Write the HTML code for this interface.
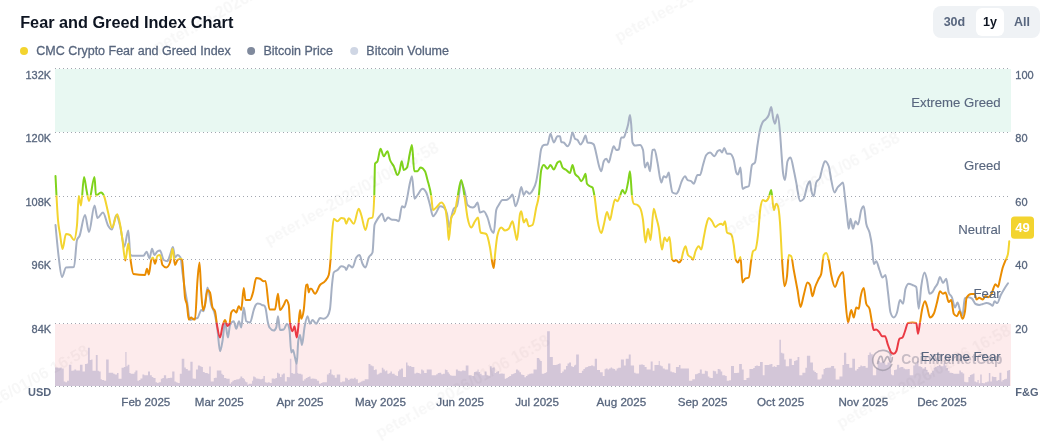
<!DOCTYPE html>
<html><head><meta charset="utf-8">
<style>
html,body{margin:0;padding:0;background:#fff;}
body{width:1058px;height:444px;overflow:hidden;position:relative;font-family:"Liberation Sans",sans-serif;}
svg{position:absolute;left:0;top:0;will-change:transform;}
text{font-family:"Liberation Sans",sans-serif;}
.ax{font-size:11px;fill:#58667e;stroke:#58667e;stroke-width:0.3px;}
.xl{font-size:11.6px;fill:#58667e;text-anchor:middle;stroke:#58667e;stroke-width:0.3px;}
.zl{font-size:13.2px;fill:#58667e;text-anchor:end;stroke:#58667e;stroke-width:0.12px;}
.lg{font-size:12.5px;fill:#58667e;stroke:#58667e;stroke-width:0.3px;}
</style></head>
<body>
<svg width="1058" height="444" viewBox="0 0 1058 444">
<defs>
<clipPath id="cg"><rect x="0" y="0" width="1058" height="195.6"/></clipPath>
<clipPath id="cy"><rect x="0" y="195.6" width="1058" height="63.6"/></clipPath>
<clipPath id="co"><rect x="0" y="259.2" width="1058" height="63.6"/></clipPath>
<clipPath id="cr"><rect x="0" y="322.8" width="1058" height="100"/></clipPath>
<pattern id="dots" x="55" y="0" width="4" height="1" patternUnits="userSpaceOnUse"><rect x="0" y="0" width="1" height="1" fill="#a2a6b0"/></pattern>
</defs>
<!-- title -->
<text x="20.2" y="28.1" style="font-size:16.25px;font-weight:700;fill:#0d1421">Fear and Greed Index Chart</text>
<!-- legend -->
<circle cx="24" cy="51" r="4" fill="#f3d42f"/>
<text class="lg" x="36.3" y="55.3">CMC Crypto Fear and Greed Index</text>
<circle cx="251.1" cy="51" r="4" fill="#808a9d"/>
<text class="lg" x="263.5" y="55.3">Bitcoin Price</text>
<circle cx="354.2" cy="51" r="4" fill="#cfd6e4"/>
<text class="lg" x="366.3" y="55.3">Bitcoin Volume</text>
<!-- buttons -->
<rect x="933" y="6" width="107" height="32" rx="8" fill="#eff2f5"/>
<rect x="976" y="8" width="28" height="28" rx="6" fill="#fff"/>
<text x="954.4" y="25.8" style="font-size:12.5px;font-weight:700;fill:#58667e;text-anchor:middle">30d</text>
<text x="990" y="25.8" style="font-size:12.5px;font-weight:700;fill:#0d1421;text-anchor:middle">1y</text>
<text x="1022" y="25.8" style="font-size:12.5px;font-weight:700;fill:#58667e;text-anchor:middle">All</text>
<!-- bands -->
<rect x="55" y="69" width="956" height="63" fill="#e8f8f2"/>
<rect x="55" y="324" width="956" height="62" fill="#fdebec"/>
<!-- volume -->
<path d="M55,386 L55.00,367.50 L58.02,367.50 L58.02,367.81 L60.29,367.81 L60.29,367.50 L61.81,367.50 L61.81,368.56 L63.77,368.56 L63.77,381.42 L65.28,381.42 L65.28,382.17 L67.10,382.17 L67.10,380.66 L68.91,380.66 L68.91,364.78 L71.33,364.78 L71.33,370.83 L72.84,370.83 L72.84,370.53 L74.36,370.53 L74.36,369.62 L76.17,369.62 L76.17,370.53 L77.68,370.53 L77.68,370.53 L79.95,370.53 L79.95,364.78 L82.52,364.78 L82.52,371.59 L84.94,371.59 L84.94,364.03 L86.76,364.03 L86.76,363.57 L87.97,363.57 L87.97,347.84 L89.78,347.84 L89.78,359.94 L91.29,359.94 L91.29,359.49 L92.50,359.49 L92.50,370.83 L95.83,370.83 L95.83,354.95 L97.65,354.95 L97.65,370.83 L98.86,370.83 L98.86,371.59 L100.67,371.59 L100.67,379.15 L101.88,379.15 L101.88,379.91 L104.15,379.91 L104.15,380.66 L106.12,380.66 L106.12,359.49 L108.69,359.49 L108.69,372.65 L113.22,372.65 L113.22,373.86 L114.74,373.86 L114.74,374.61 L117.00,374.61 L117.00,373.10 L118.52,373.10 L118.52,378.70 L121.54,378.70 L121.54,367.81 L123.81,367.81 L123.81,367.05 L125.32,367.05 L125.32,351.93 L126.53,351.93 L126.53,366.29 L127.59,366.29 L127.59,364.78 L129.40,364.78 L129.40,373.10 L130.61,373.10 L130.61,373.86 L134.40,373.86 L134.40,372.34 L135.45,372.34 L135.45,370.53 L137.42,370.53 L137.42,380.66 L138.93,380.66 L138.93,379.91 L140.44,379.91 L140.44,378.39 L142.41,378.39 L142.41,374.61 L144.22,374.61 L144.22,375.37 L148.01,375.37 L148.01,371.59 L149.97,371.59 L149.97,375.37 L151.79,375.37 L151.79,376.88 L153.30,376.88 L153.30,378.09 L155.57,378.09 L155.57,382.17 L157.08,382.17 L157.08,382.93 L158.59,382.93 L158.59,382.17 L160.86,382.17 L160.86,378.70 L162.37,378.70 L162.37,378.09 L163.88,378.09 L163.88,375.37 L166.15,375.37 L166.15,378.39 L167.67,378.39 L167.67,378.09 L169.93,378.09 L169.93,377.64 L172.20,377.64 L172.20,371.59 L174.47,371.59 L174.47,381.42 L175.98,381.42 L175.98,382.17 L177.50,382.17 L177.50,382.93 L179.76,382.93 L179.76,373.86 L181.73,373.86 L181.73,358.73 L184.30,358.73 L184.30,367.50 L185.81,367.50 L185.81,369.02 L187.78,369.02 L187.78,370.53 L190.35,370.53 L190.35,361.76 L192.62,361.76 L192.62,378.39 L194.13,378.39 L194.13,378.70 L195.95,378.70 L195.95,369.62 L197.91,369.62 L197.91,365.54 L199.88,365.54 L199.88,366.29 L201.39,366.29 L201.39,367.05 L202.90,367.05 L202.90,372.04 L204.72,372.04 L204.72,373.10 L207.74,373.10 L207.74,373.86 L209.25,373.86 L209.25,366.60 L210.77,366.60 L210.77,381.42 L213.79,381.42 L213.79,378.09 L215.00,378.09 L215.00,377.64 L216.81,377.64 L216.81,370.53 L221.35,370.53 L221.35,373.86 L222.56,373.86 L222.56,375.07 L224.07,375.07 L224.07,378.09 L226.34,378.09 L226.34,378.70 L229.67,378.70 L229.67,383.69 L230.88,383.69 L230.88,382.17 L232.39,382.17 L232.39,380.66 L233.90,380.66 L233.90,379.91 L235.87,379.91 L235.87,379.60 L237.38,379.60 L237.38,379.15 L239.20,379.15 L239.20,378.39 L240.41,378.39 L240.41,376.58 L242.22,376.58 L242.22,378.09 L243.73,378.09 L243.73,379.15 L244.94,379.15 L244.94,381.42 L246.00,381.42 L246.00,382.17 L247.51,382.17 L247.51,384.74 L248.57,384.74 L248.57,383.69 L252.05,383.69 L252.05,380.66 L253.11,380.66 L253.11,376.58 L254.62,376.58 L254.62,377.18 L255.83,377.18 L255.83,378.39 L257.65,378.39 L257.65,378.70 L259.61,378.70 L259.61,379.15 L261.88,379.15 L261.88,378.70 L263.39,378.70 L263.39,376.12 L264.91,376.12 L264.91,382.17 L266.42,382.17 L266.42,382.63 L267.93,382.63 L267.93,382.17 L269.74,382.17 L269.74,382.93 L271.71,382.93 L271.71,378.39 L273.98,378.39 L273.98,378.70 L275.49,378.70 L275.49,378.09 L277.00,378.09 L277.00,372.65 L278.52,372.65 L278.52,373.86 L280.03,373.86 L280.03,376.88 L281.54,376.88 L281.54,374.61 L283.05,374.61 L283.05,373.55 L284.87,373.55 L284.87,381.42 L286.83,381.42 L286.83,376.88 L288.35,376.88 L288.35,377.18 L289.86,377.18 L289.86,358.73 L291.37,358.73 L291.37,373.10 L292.88,373.10 L292.88,373.86 L295.15,373.86 L295.15,363.27 L297.42,363.27 L297.42,373.10 L298.18,373.10 L298.18,373.86 L301.20,373.86 L301.20,374.61 L302.71,374.61 L302.71,380.66 L304.22,380.66 L304.22,379.15 L305.74,379.15 L305.74,378.09 L307.55,378.09 L307.55,376.88 L309.06,376.88 L309.06,376.58 L310.58,376.58 L310.58,378.70 L312.09,378.70 L312.09,378.39 L313.60,378.39 L313.60,378.70 L315.57,378.70 L315.57,379.15 L317.08,379.15 L317.08,380.66 L319.05,380.66 L319.05,383.69 L320.86,383.69 L320.86,382.93 L322.37,382.93 L322.37,382.17 L326.91,382.17 L326.91,374.61 L328.72,374.61 L328.72,373.10 L329.93,373.10 L329.93,369.62 L331.45,369.62 L331.45,374.61 L332.96,374.61 L332.96,375.37 L334.77,375.37 L334.77,377.64 L336.74,377.64 L336.74,374.61 L340.22,374.61 L340.22,382.17 L342.03,382.17 L342.03,381.42 L345.06,381.42 L345.06,377.64 L346.57,377.64 L346.57,378.39 L348.08,378.39 L348.08,379.91 L349.59,379.91 L349.59,378.70 L351.11,378.70 L351.11,378.39 L352.62,378.39 L352.62,378.70 L354.13,378.70 L354.13,377.64 L355.64,377.64 L355.64,379.15 L357.91,379.15 L357.91,382.93 L359.42,382.93 L359.42,382.17 L360.94,382.17 L360.94,381.42 L362.45,381.42 L362.45,380.66 L364.72,380.66 L364.72,379.15 L368.50,379.15 L368.50,364.03 L370.46,364.03 L370.46,365.54 L372.28,365.54 L372.28,366.29 L373.79,366.29 L373.79,370.08 L375.00,370.08 L375.00,369.62 L376.81,369.62 L376.81,374.61 L378.33,374.61 L378.33,373.86 L379.54,373.86 L379.54,372.65 L381.81,372.65 L381.81,367.81 L383.32,367.81 L383.32,369.62 L384.83,369.62 L384.83,371.13 L385.89,371.13 L385.89,370.53 L387.40,370.53 L387.40,373.86 L389.37,373.86 L389.37,373.10 L390.43,373.10 L390.43,371.59 L391.94,371.59 L391.94,373.86 L394.66,373.86 L394.66,375.37 L396.47,375.37 L396.47,376.12 L397.99,376.12 L397.99,371.13 L399.20,371.13 L399.20,369.62 L401.01,369.62 L401.01,368.56 L402.98,368.56 L402.98,376.88 L406.00,376.88 L406.00,362.51 L407.51,362.51 L407.51,365.54 L409.03,365.54 L409.03,366.29 L410.09,366.29 L410.09,365.99 L411.29,365.99 L411.29,367.05 L414.32,367.05 L414.32,373.55 L416.13,373.55 L416.13,372.65 L418.10,372.65 L418.10,373.10 L419.61,373.10 L419.61,373.86 L421.12,373.86 L421.12,369.62 L422.64,369.62 L422.64,370.53 L424.15,370.53 L424.15,373.10 L426.72,373.10 L426.72,369.62 L431.71,369.62 L431.71,375.37 L436.25,375.37 L436.25,374.16 L437.76,374.16 L437.76,373.10 L439.27,373.10 L439.27,372.65 L441.24,372.65 L441.24,374.16 L443.05,374.16 L443.05,373.86 L444.87,373.86 L444.87,369.62 L446.08,369.62 L446.08,370.08 L447.59,370.08 L447.59,372.34 L448.80,372.34 L448.80,373.86 L449.86,373.86 L449.86,375.37 L451.37,375.37 L451.37,375.67 L455.91,375.67 L455.91,369.62 L457.87,369.62 L457.87,370.83 L459.69,370.83 L459.69,371.13 L461.96,371.13 L461.96,370.53 L464.22,370.53 L464.22,370.83 L465.74,370.83 L465.74,365.54 L468.46,365.54 L468.46,375.37 L471.79,375.37 L471.79,376.12 L474.05,376.12 L474.05,372.04 L475.57,372.04 L475.57,371.59 L477.53,371.59 L477.53,369.62 L478.59,369.62 L478.59,372.04 L480.10,372.04 L480.10,373.86 L481.62,373.86 L481.62,375.37 L484.64,375.37 L484.64,371.59 L486.61,371.59 L486.61,375.37 L488.42,375.37 L488.42,375.67 L489.93,375.67 L489.93,366.29 L491.75,366.29 L491.75,367.81 L492.96,367.81 L492.96,367.50 L494.77,367.50 L494.77,373.10 L495.98,373.10 L495.98,372.34 L497.50,372.34 L497.50,371.13 L499.01,371.13 L499.01,373.86 L500.52,373.86 L500.52,373.55 L502.79,373.55 L502.79,373.86 L504.75,373.86 L504.75,378.70 L506.27,378.70 L506.27,378.09 L507.78,378.09 L507.78,376.88 L509.29,376.88 L509.29,376.12 L511.11,376.12 L511.11,374.16 L512.92,374.16 L512.92,373.86 L514.43,373.86 L514.43,373.10 L515.95,373.10 L515.95,369.62 L517.91,369.62 L517.91,370.53 L519.42,370.53 L519.42,372.34 L520.94,372.34 L520.94,374.61 L522.45,374.61 L522.45,375.07 L524.41,375.07 L524.41,377.18 L525.93,377.18 L525.93,376.12 L527.44,376.12 L527.44,374.61 L529.25,374.61 L529.25,373.86 L530.77,373.86 L530.77,373.55 L533.49,373.55 L533.49,369.62 L535.00,369.62 L535.00,369.62 L536.81,369.62 L536.81,357.98 L539.23,357.98 L539.23,359.49 L540.29,359.49 L540.29,361.00 L541.81,361.00 L541.81,373.86 L544.38,373.86 L544.38,373.10 L545.89,373.10 L545.89,372.34 L547.10,372.34 L547.10,331.21 L549.82,331.21 L549.82,356.92 L552.84,356.92 L552.84,365.09 L556.17,365.09 L556.17,364.78 L557.68,364.78 L557.68,364.03 L558.89,364.03 L558.89,363.57 L560.71,363.57 L560.71,373.10 L562.22,373.10 L562.22,371.59 L563.73,371.59 L563.73,369.62 L566.00,369.62 L566.00,365.99 L567.51,365.99 L567.51,363.57 L569.03,363.57 L569.03,362.51 L570.99,362.51 L570.99,366.29 L572.50,366.29 L572.50,367.05 L574.02,367.05 L574.02,365.54 L575.08,365.54 L575.08,364.78 L576.13,364.78 L576.13,354.50 L578.86,354.50 L578.86,373.10 L581.88,373.10 L581.88,370.83 L583.39,370.83 L583.39,369.02 L584.91,369.02 L584.91,367.50 L586.42,367.50 L586.42,367.05 L587.93,367.05 L587.93,366.29 L589.44,366.29 L589.44,365.99 L590.95,365.99 L590.95,365.54 L593.22,365.54 L593.22,366.29 L594.74,366.29 L594.74,358.73 L597.00,358.73 L597.00,370.08 L600.03,370.08 L600.03,372.34 L602.75,372.34 L602.75,376.12 L604.57,376.12 L604.57,369.32 L605.78,369.32 L605.78,368.56 L607.59,368.56 L607.59,369.62 L609.10,369.62 L609.10,368.56 L610.61,368.56 L610.61,367.50 L612.13,367.50 L612.13,368.56 L613.64,368.56 L613.64,369.02 L615.15,369.02 L615.15,370.53 L616.66,370.53 L616.66,368.56 L618.18,368.56 L618.18,367.81 L620.90,367.81 L620.90,359.49 L623.92,359.49 L623.92,365.54 L625.74,365.54 L625.74,358.73 L628.76,358.73 L628.76,354.50 L630.73,354.50 L630.73,365.54 L634.05,365.54 L634.05,372.65 L635.57,372.65 L635.57,373.55 L639.05,373.55 L639.05,364.78 L640.86,364.78 L640.86,364.48 L643.13,364.48 L643.13,365.09 L644.64,365.09 L644.64,367.05 L646.61,367.05 L646.61,369.62 L650.69,369.62 L650.69,361.46 L652.66,361.46 L652.66,370.83 L654.47,370.83 L654.47,365.09 L658.71,365.09 L658.71,361.00 L659.76,361.00 L659.76,365.54 L661.28,365.54 L661.28,366.29 L662.79,366.29 L662.79,368.56 L664.75,368.56 L664.75,369.62 L668.08,369.62 L668.08,363.57 L670.35,363.57 L670.35,371.59 L671.86,371.59 L671.86,372.34 L674.43,372.34 L674.43,373.10 L675.95,373.10 L675.95,367.05 L678.97,367.05 L678.97,365.09 L680.48,365.09 L680.48,368.56 L686.23,368.56 L686.23,368.56 L688.95,368.56 L688.95,380.66 L692.28,380.66 L692.28,379.15 L695.00,379.15 L695.00,374.16 L696.81,374.16 L696.81,373.86 L698.33,373.86 L698.33,373.10 L699.84,373.10 L699.84,369.62 L701.81,369.62 L701.81,373.86 L704.83,373.86 L704.83,370.83 L706.34,370.83 L706.34,371.13 L707.85,371.13 L707.85,376.58 L709.37,376.58 L709.37,377.64 L710.88,377.64 L710.88,378.09 L712.84,378.09 L712.84,370.83 L714.36,370.83 L714.36,371.13 L716.17,371.13 L716.17,373.86 L717.68,373.86 L717.68,369.02 L719.50,369.02 L719.50,369.62 L720.71,369.62 L720.71,371.59 L722.22,371.59 L722.22,375.37 L725.25,375.37 L725.25,376.12 L726.76,376.12 L726.76,380.66 L729.03,380.66 L729.03,380.21 L730.99,380.21 L730.99,365.99 L734.02,365.99 L734.02,373.10 L737.34,373.10 L737.34,372.65 L739.16,372.65 L739.16,364.03 L741.88,364.03 L741.88,369.62 L743.70,369.62 L743.70,379.91 L746.42,379.91 L746.42,378.09 L747.93,378.09 L747.93,377.64 L749.44,377.64 L749.44,369.02 L753.22,369.02 L753.22,368.11 L754.74,368.11 L754.74,365.99 L756.25,365.99 L756.25,365.54 L757.76,365.54 L757.76,365.99 L760.03,365.99 L760.03,362.06 L762.75,362.06 L762.75,375.37 L764.57,375.37 L764.57,365.09 L769.10,365.09 L769.10,364.48 L770.61,364.48 L770.61,364.03 L772.43,364.03 L772.43,367.05 L773.64,367.05 L773.64,366.29 L775.15,366.29 L775.15,367.05 L776.66,367.05 L776.66,365.09 L779.39,365.09 L779.39,339.83 L780.90,339.83 L780.90,352.68 L782.41,352.68 L782.41,353.44 L784.22,353.44 L784.22,359.49 L785.74,359.49 L785.74,366.29 L789.06,366.29 L789.06,358.73 L791.79,358.73 L791.79,365.09 L794.05,365.09 L794.05,361.00 L795.57,361.00 L795.57,360.25 L797.53,360.25 L797.53,356.92 L799.35,356.92 L799.35,375.37 L802.37,375.37 L802.37,372.65 L805.40,372.65 L805.40,367.81 L806.91,367.81 L806.91,355.71 L810.24,355.71 L810.24,362.51 L812.96,362.51 L812.96,370.53 L814.47,370.53 L814.47,372.04 L815.98,372.04 L815.98,373.10 L817.50,373.10 L817.50,379.60 L820.52,379.60 L820.52,378.39 L821.73,378.39 L821.73,374.61 L823.54,374.61 L823.54,369.02 L825.06,369.02 L825.06,368.11 L826.57,368.11 L826.57,367.81 L829.59,367.81 L829.59,367.50 L831.11,367.50 L831.11,365.99 L834.13,365.99 L834.13,368.56 L835.64,368.56 L835.64,379.60 L839.42,379.60 L839.42,376.58 L842.45,376.58 L842.45,365.09 L843.96,365.09 L843.96,352.68 L846.23,352.68 L846.23,364.03 L849.25,364.03 L849.25,367.81 L852.28,367.81 L852.28,358.73 L855.00,358.73 L855.00,370.53 L856.81,370.53 L856.81,369.02 L858.33,369.02 L858.33,367.05 L860.29,367.05 L860.29,365.54 L861.81,365.54 L861.81,366.29 L863.32,366.29 L863.32,365.99 L865.59,365.99 L865.59,367.81 L867.85,367.81 L867.85,354.95 L869.37,354.95 L869.37,352.38 L870.88,352.38 L870.88,354.20 L872.84,354.20 L872.84,375.37 L876.17,375.37 L876.17,367.81 L877.68,367.81 L877.68,361.00 L879.95,361.00 L879.95,362.51 L881.92,362.51 L881.92,361.76 L883.73,361.76 L883.73,362.51 L885.25,362.51 L885.25,364.78 L887.51,364.78 L887.51,362.51 L889.48,362.51 L889.48,348.15 L890.99,348.15 L890.99,374.61 L892.05,374.61 L892.05,375.37 L894.02,375.37 L894.02,370.08 L895.53,370.08 L895.53,369.62 L897.04,369.62 L897.04,364.78 L899.16,364.78 L899.16,367.81 L900.37,367.81 L900.37,367.05 L903.39,367.05 L903.39,368.56 L904.91,368.56 L904.91,369.32 L907.93,369.32 L907.93,369.02 L909.74,369.02 L909.74,375.37 L913.22,375.37 L913.22,365.54 L914.74,365.54 L914.74,364.03 L917.00,364.03 L917.00,361.00 L918.52,361.00 L918.52,366.29 L920.78,366.29 L920.78,367.05 L922.30,367.05 L922.30,368.56 L924.57,368.56 L924.57,367.05 L926.08,367.05 L926.08,370.08 L927.59,370.08 L927.59,372.34 L929.10,372.34 L929.10,374.61 L930.61,374.61 L930.61,372.65 L932.13,372.65 L932.13,370.83 L933.64,370.83 L933.64,367.81 L935.15,367.81 L935.15,367.05 L936.66,367.05 L936.66,365.99 L938.93,365.99 L938.93,365.09 L940.44,365.09 L940.44,366.29 L943.47,366.29 L943.47,363.27 L944.98,363.27 L944.98,365.54 L946.49,365.54 L946.49,368.11 L948.01,368.11 L948.01,370.83 L949.52,370.83 L949.52,372.65 L951.79,372.65 L951.79,373.10 L953.30,373.10 L953.30,373.86 L959.35,373.86 L959.35,370.53 L960.86,370.53 L960.86,372.34 L962.67,372.34 L962.67,373.55 L964.19,373.55 L964.19,381.72 L965.40,381.72 L965.40,382.17 L968.42,382.17 L968.42,376.88 L969.93,376.88 L969.93,375.07 L971.45,375.07 L971.45,374.16 L973.26,374.16 L973.26,373.55 L974.47,373.55 L974.47,381.42 L975.98,381.42 L975.98,382.17 L977.50,382.17 L977.50,379.91 L978.71,379.91 L978.71,383.23 L980.22,383.23 L980.22,374.61 L981.73,374.61 L981.73,382.93 L983.24,382.93 L983.24,383.23 L985.06,383.23 L985.06,382.17 L987.33,382.17 L987.33,381.42 L988.84,381.42 L988.84,373.10 L990.35,373.10 L990.35,381.42 L991.86,381.42 L991.86,376.58 L993.37,376.58 L993.37,376.88 L996.40,376.88 L996.40,380.66 L997.91,380.66 L997.91,379.91 L999.42,379.91 L999.42,372.65 L1001.39,372.65 L1001.39,381.42 L1002.45,381.42 L1002.45,379.91 L1003.96,379.91 L1003.96,379.15 L1005.47,379.15 L1005.47,378.70 L1006.98,378.70 L1006.98,370.83 L1008.50,370.83 L1008.50,370.08 L1010.00,370.08 L1010,386 Z" fill="#d3c6d8"/>
<!-- grid -->
<rect x="55" y="68" width="954" height="1" fill="url(#dots)"/>
<rect x="55" y="132" width="954" height="1" fill="url(#dots)"/>
<rect x="55" y="196" width="954" height="1" fill="url(#dots)"/>
<rect x="55" y="259" width="954" height="1" fill="url(#dots)"/>
<rect x="55" y="323" width="954" height="1" fill="url(#dots)"/>
<rect x="55" y="386" width="954" height="1" fill="url(#dots)"/>
<!-- watermark logo -->
<g fill="none" stroke="#9d97a6" stroke-width="1.7" opacity="0.7" stroke-linecap="round">
<path d="M891.2,355 A10,10 0 1 0 891.8,364.5"/>
<path d="M877.6,363.5 C878.6,358 880,355.6 881.4,356.4 C882.8,357.3 882.2,362.3 883.6,362.3 C885,362.3 885.6,356.2 887.6,356.6 C889.4,357 889,362.2 890.6,362.2 C891.6,362.2 892.2,359.5 892.3,357.6"/>
</g>
<text x="901.2" y="364.2" style="font-size:13.8px;font-weight:700;fill:#9d97a6;opacity:0.55">CoinMarketCap</text>
<!-- btc line -->
<path d="M55.50,225.00 C56.58,236.92 57.67,248.83 58.75,257.50 C59.83,266.17 60.92,277.00 62.00,277.00 C63.33,277.00 64.67,267.67 66.00,267.50 C68.67,267.17 71.33,267.33 74.00,267.00 C75.00,266.88 76.00,243.20 77.00,240.00 C77.83,237.33 78.67,237.91 79.50,236.00 C81.33,231.80 83.17,215.00 85.00,215.00 C86.33,215.00 87.67,232.00 89.00,232.00 C90.83,232.00 92.67,205.50 94.50,205.50 C95.50,205.50 96.50,218.00 97.50,218.00 C99.33,218.00 101.17,212.50 103.00,212.50 C104.67,212.50 106.33,222.54 108.00,225.40 C109.33,227.69 110.67,229.50 112.00,229.50 C113.40,229.50 114.80,215.30 116.20,215.30 C117.53,215.30 118.87,221.27 120.20,226.40 C121.57,231.66 122.93,246.70 124.30,246.70 C125.63,246.70 126.97,230.50 128.30,230.50 C129.00,230.50 129.70,254.10 130.40,254.80 C131.07,255.47 131.73,255.80 132.40,255.80 C136.10,255.80 139.80,255.80 143.50,255.80 C144.53,255.80 145.57,251.70 146.60,251.70 C147.57,251.70 148.53,258.50 149.50,258.50 C150.33,258.50 151.17,248.75 152.00,248.75 C152.83,248.75 153.67,255.00 154.50,255.00 C155.50,255.00 156.50,251.85 157.50,251.25 C158.33,250.75 159.17,250.50 160.00,250.50 C161.25,250.50 162.50,259.17 163.75,260.00 C165.00,260.83 166.25,261.25 167.50,261.25 C168.33,261.25 169.17,257.15 170.00,255.00 C171.00,252.42 172.00,247.00 173.00,247.00 C173.67,247.00 174.33,257.50 175.00,257.50 C175.83,257.50 176.67,255.00 177.50,255.00 C178.50,255.00 179.50,255.83 180.50,257.50 C181.17,258.61 181.83,267.65 182.50,272.50 C183.33,278.56 184.17,284.80 185.00,290.00 C185.67,294.16 186.33,297.33 187.00,301.25 C188.00,307.12 189.00,320.00 190.00,320.00 C191.25,320.00 192.50,319.08 193.75,318.75 C195.00,318.42 196.25,318.50 197.50,318.00 C198.75,317.50 200.00,310.00 201.25,310.00 C202.08,310.00 202.92,311.25 203.75,311.25 C205.00,311.25 206.25,287.50 207.50,287.50 C208.75,287.50 210.00,300.42 211.25,305.00 C212.50,309.58 213.75,309.17 215.00,315.00 C215.83,318.89 216.67,323.96 217.50,330.00 C218.33,336.04 219.17,351.25 220.00,351.25 C220.83,351.25 221.67,345.79 222.50,341.00 C223.33,336.21 224.17,322.50 225.00,322.50 C226.00,322.50 227.00,337.50 228.00,337.50 C228.67,337.50 229.33,326.33 230.00,325.00 C231.25,322.50 232.50,321.25 233.75,321.25 C234.58,321.25 235.42,328.75 236.25,328.75 C237.17,328.75 238.08,321.25 239.00,321.25 C239.75,321.25 240.50,327.50 241.25,327.50 C242.08,327.50 242.92,307.50 243.75,307.50 C244.58,307.50 245.42,320.69 246.25,321.25 C247.50,322.08 248.75,322.50 250.00,322.50 C251.25,322.50 252.50,313.65 253.75,310.00 C254.23,308.59 254.72,307.03 255.20,306.00 C256.00,304.30 256.80,303.40 257.60,303.40 C258.40,303.40 259.20,303.59 260.00,303.90 C260.77,304.20 261.53,304.94 262.30,305.20 C262.87,305.39 263.43,305.30 264.00,305.50 C264.50,305.68 265.00,306.33 265.50,308.00 C266.27,310.56 267.03,318.59 267.80,322.00 C268.37,324.52 268.93,326.70 269.50,327.50 C270.92,329.50 272.33,330.50 273.75,330.50 C274.58,330.50 275.42,329.50 276.25,327.50 C276.83,326.10 277.42,316.25 278.00,316.25 C278.67,316.25 279.33,330.00 280.00,330.00 C281.25,330.00 282.50,329.83 283.75,329.50 C284.83,329.21 285.92,323.75 287.00,323.75 C287.83,323.75 288.67,325.83 289.50,330.00 C290.08,332.92 290.67,352.50 291.25,352.50 C291.83,352.50 292.42,350.00 293.00,350.00 C293.67,350.00 294.33,355.06 295.00,357.50 C295.58,359.63 296.17,363.75 296.75,363.75 C297.25,363.75 297.75,344.82 298.25,341.25 C298.83,337.08 299.42,335.00 300.00,335.00 C300.67,335.00 301.33,345.00 302.00,345.00 C302.83,345.00 303.67,332.10 304.50,327.50 C305.50,321.98 306.50,316.25 307.50,316.25 C308.33,316.25 309.17,323.75 310.00,323.75 C310.83,323.75 311.67,320.00 312.50,320.00 C313.75,320.00 315.00,323.75 316.25,323.75 C317.50,323.75 318.75,318.00 320.00,318.00 C321.25,318.00 322.50,318.75 323.75,318.75 C325.00,318.75 326.25,317.92 327.50,316.25 C328.33,315.14 329.17,313.83 330.00,309.00 C330.67,305.13 331.33,291.27 332.00,285.00 C332.58,279.51 333.17,273.28 333.75,272.50 C335.00,270.83 336.25,271.04 337.50,270.00 C338.75,268.96 340.00,266.25 341.25,266.25 C342.50,266.25 343.75,266.67 345.00,267.50 C345.42,267.78 345.83,270.00 346.25,270.00 C347.08,270.00 347.92,265.00 348.75,265.00 C350.00,265.00 351.25,267.50 352.50,267.50 C353.75,267.50 355.00,259.42 356.25,257.50 C357.33,255.83 358.42,255.00 359.50,255.00 C360.50,255.00 361.50,261.67 362.50,263.75 C363.50,265.83 364.50,267.50 365.50,267.50 C366.58,267.50 367.67,259.96 368.75,257.50 C370.00,254.67 371.25,255.83 372.50,252.50 C373.17,250.72 373.83,227.86 374.50,225.00 C375.08,222.50 375.67,222.38 376.25,221.25 C377.33,219.16 378.42,217.59 379.50,216.25 C380.33,215.22 381.17,213.75 382.00,213.75 C383.00,213.75 384.00,221.25 385.00,221.25 C386.00,221.25 387.00,217.50 388.00,217.50 C389.08,217.50 390.17,219.28 391.25,219.50 C392.92,219.83 394.58,219.67 396.25,220.00 C397.08,220.17 397.92,221.25 398.75,221.25 C399.83,221.25 400.92,206.25 402.00,206.25 C402.83,206.25 403.67,207.50 404.50,207.50 C405.33,207.50 406.17,202.50 407.00,198.75 C407.83,195.00 408.67,188.75 409.50,185.00 C410.33,181.25 411.17,176.25 412.00,176.25 C412.83,176.25 413.67,198.75 414.50,198.75 C415.50,198.75 416.50,196.25 417.50,195.00 C419.17,192.92 420.83,188.75 422.50,188.75 C423.75,188.75 425.00,190.00 426.25,192.50 C427.50,195.00 428.75,200.54 430.00,205.00 C431.00,208.56 432.00,216.25 433.00,216.25 C434.08,216.25 435.17,214.01 436.25,212.50 C437.50,210.76 438.75,206.25 440.00,206.25 C441.25,206.25 442.50,206.67 443.75,207.50 C444.83,208.22 445.92,209.58 447.00,213.75 C447.75,216.63 448.50,227.50 449.25,227.50 C449.92,227.50 450.58,220.39 451.25,217.50 C452.08,213.89 452.92,210.03 453.75,208.75 C454.83,207.08 455.92,207.92 457.00,206.25 C458.42,204.07 459.83,182.50 461.25,182.50 C462.50,182.50 463.75,187.42 465.00,192.50 C465.83,195.89 466.67,204.17 467.50,205.00 C469.17,206.67 470.83,207.50 472.50,207.50 C473.33,207.50 474.17,207.08 475.00,206.25 C475.83,205.42 476.67,202.50 477.50,202.50 C478.33,202.50 479.17,212.50 480.00,212.50 C481.25,212.50 482.50,211.25 483.75,211.25 C485.00,211.25 486.25,214.38 487.50,217.50 C488.75,220.62 490.00,227.43 491.25,230.00 C492.08,231.71 492.92,233.00 493.75,233.00 C494.58,233.00 495.42,213.33 496.25,210.00 C497.08,206.67 497.92,206.44 498.75,205.00 C500.00,202.83 501.25,200.00 502.50,200.00 C503.75,200.00 505.00,200.00 506.25,200.00 C507.50,200.00 508.75,198.73 510.00,197.50 C510.83,196.68 511.67,194.50 512.50,194.50 C513.50,194.50 514.50,206.25 515.50,206.25 C516.58,206.25 517.67,201.34 518.75,197.50 C519.58,194.55 520.42,187.00 521.25,187.00 C522.08,187.00 522.92,195.00 523.75,195.00 C524.58,195.00 525.42,191.25 526.25,191.25 C527.33,191.25 528.42,193.75 529.50,193.75 C530.50,193.75 531.50,192.20 532.50,190.50 C533.75,188.38 535.00,186.98 536.25,181.25 C537.08,177.43 537.92,171.67 538.75,166.25 C539.58,160.83 540.42,151.25 541.25,148.75 C542.08,146.25 542.92,145.22 543.75,145.00 C545.00,144.67 546.25,144.83 547.50,144.50 C548.50,144.23 549.50,133.75 550.50,133.75 C551.58,133.75 552.67,142.50 553.75,142.50 C555.00,142.50 556.25,136.25 557.50,136.25 C558.33,136.25 559.17,136.25 560.00,136.25 C560.42,136.25 560.83,141.83 561.25,142.00 C562.08,142.33 562.92,142.17 563.75,142.50 C565.00,143.00 566.25,146.25 567.50,146.25 C568.33,146.25 569.17,144.79 570.00,142.50 C570.83,140.21 571.67,132.50 572.50,132.50 C573.33,132.50 574.17,137.92 575.00,138.75 C575.83,139.58 576.67,139.20 577.50,140.00 C578.50,140.95 579.50,144.50 580.50,144.50 C581.33,144.50 582.17,142.75 583.00,141.25 C583.83,139.75 584.67,135.50 585.50,135.50 C586.17,135.50 586.83,142.32 587.50,142.50 C588.75,142.83 590.00,142.67 591.25,143.00 C592.08,143.22 592.92,143.50 593.75,144.50 C594.58,145.50 595.42,150.33 596.25,153.75 C597.08,157.17 597.92,162.08 598.75,165.00 C599.58,167.92 600.42,171.25 601.25,171.25 C602.08,171.25 602.92,162.92 603.75,161.25 C604.58,159.58 605.42,158.75 606.25,158.75 C607.08,158.75 607.92,162.50 608.75,162.50 C609.58,162.50 610.42,156.46 611.25,153.75 C612.08,151.04 612.92,146.25 613.75,146.25 C614.58,146.25 615.42,150.00 616.25,150.00 C617.08,150.00 617.92,149.83 618.75,149.50 C619.58,149.17 620.42,137.50 621.25,137.50 C622.08,137.50 622.92,137.50 623.75,137.50 C624.42,137.50 625.08,134.43 625.75,132.50 C626.50,130.33 627.25,128.16 628.00,125.00 C628.67,122.19 629.33,115.00 630.00,115.00 C630.42,115.00 630.83,120.42 631.25,125.00 C631.67,129.58 632.08,141.50 632.50,142.50 C633.33,144.50 634.17,145.50 635.00,145.50 C636.67,145.50 638.33,145.00 640.00,145.00 C641.00,145.00 642.00,146.67 643.00,150.00 C643.67,152.22 644.33,167.50 645.00,167.50 C645.83,167.50 646.67,162.50 647.50,162.50 C648.33,162.50 649.17,171.25 650.00,171.25 C650.83,171.25 651.67,150.42 652.50,150.00 C653.17,149.67 653.83,149.50 654.50,149.50 C655.50,149.50 656.50,157.72 657.50,162.50 C658.75,168.47 660.00,182.50 661.25,182.50 C662.08,182.50 662.92,176.25 663.75,176.25 C664.58,176.25 665.42,177.50 666.25,177.50 C667.08,177.50 667.92,172.50 668.75,172.50 C669.17,172.50 669.58,177.64 670.00,180.00 C670.83,184.72 671.67,191.94 672.50,192.50 C673.75,193.33 675.00,193.75 676.25,193.75 C677.08,193.75 677.92,191.88 678.75,190.00 C679.58,188.12 680.42,184.56 681.25,182.50 C682.50,179.42 683.75,176.25 685.00,176.25 C685.83,176.25 686.67,179.44 687.50,180.00 C688.75,180.83 690.00,180.42 691.25,181.25 C692.08,181.81 692.92,183.75 693.75,183.75 C695.00,183.75 696.25,175.00 697.50,175.00 C698.33,175.00 699.17,175.00 700.00,175.00 C701.00,175.00 702.00,168.21 703.00,165.00 C704.08,161.52 705.17,156.44 706.25,155.00 C707.50,153.33 708.75,152.50 710.00,152.50 C711.50,152.50 713.00,156.25 714.50,156.25 C715.50,156.25 716.50,152.25 717.50,151.25 C718.33,150.42 719.17,150.00 720.00,150.00 C720.67,150.00 721.33,152.50 722.00,152.50 C722.75,152.50 723.50,148.00 724.25,148.00 C725.17,148.00 726.08,153.75 727.00,153.75 C728.00,153.75 729.00,153.75 730.00,153.75 C731.25,153.75 732.50,155.83 733.75,160.00 C734.58,162.78 735.42,170.60 736.25,172.50 C736.83,173.83 737.42,174.50 738.00,174.50 C738.83,174.50 739.67,167.50 740.50,167.50 C741.17,167.50 741.83,188.75 742.50,188.75 C743.33,188.75 744.17,187.86 745.00,187.50 C746.25,186.96 747.50,187.08 748.75,186.25 C749.83,185.53 750.92,166.81 752.00,165.00 C753.00,163.33 754.00,164.17 755.00,162.50 C755.83,161.11 756.67,150.42 757.50,145.00 C758.33,139.58 759.17,133.75 760.00,130.00 C760.83,126.25 761.67,124.17 762.50,122.50 C763.50,120.50 764.50,120.68 765.50,119.50 C766.58,118.22 767.67,117.61 768.75,115.00 C769.58,112.99 770.42,107.00 771.25,107.00 C771.92,107.00 772.58,115.91 773.25,118.75 C773.83,121.24 774.42,123.75 775.00,123.75 C775.83,123.75 776.67,114.50 777.50,114.50 C778.33,114.50 779.17,122.72 780.00,132.50 C780.42,137.39 780.83,144.37 781.25,150.00 C781.83,157.89 782.42,168.12 783.00,172.50 C783.67,177.50 784.33,180.00 785.00,180.00 C785.83,180.00 786.67,163.33 787.50,161.25 C788.50,158.75 789.50,157.50 790.50,157.50 C791.58,157.50 792.67,165.13 793.75,170.00 C794.58,173.75 795.42,178.33 796.25,182.50 C797.50,188.75 798.75,201.25 800.00,201.25 C801.25,201.25 802.50,200.42 803.75,198.75 C805.00,197.08 806.25,187.96 807.50,185.00 C808.33,183.03 809.17,181.25 810.00,181.25 C810.42,181.25 810.83,187.92 811.25,190.00 C812.08,194.17 812.92,196.25 813.75,196.25 C814.58,196.25 815.42,184.72 816.25,182.50 C817.50,179.17 818.75,180.83 820.00,177.50 C820.83,175.28 821.67,170.21 822.50,167.50 C823.33,164.79 824.17,161.25 825.00,161.25 C826.25,161.25 827.50,162.92 828.75,166.25 C829.58,168.47 830.42,176.02 831.25,180.00 C832.33,185.18 833.42,192.50 834.50,192.50 C835.50,192.50 836.50,188.80 837.50,187.50 C838.33,186.41 839.17,185.77 840.00,185.00 C841.00,184.08 842.00,182.50 843.00,182.50 C843.67,182.50 844.33,192.08 845.00,197.50 C845.67,202.92 846.33,209.48 847.00,215.00 C847.58,219.83 848.17,228.75 848.75,228.75 C849.33,228.75 849.92,218.75 850.50,218.75 C851.33,218.75 852.17,228.75 853.00,228.75 C853.83,228.75 854.67,221.25 855.50,221.25 C856.33,221.25 857.17,224.50 858.00,224.50 C859.08,224.50 860.17,213.02 861.25,210.00 C862.08,207.68 862.92,206.25 863.75,206.25 C864.58,206.25 865.42,219.48 866.25,223.75 C867.33,229.30 868.42,227.86 869.50,232.50 C870.33,236.07 871.17,239.39 872.00,246.25 C872.58,251.05 873.17,264.00 873.75,264.00 C874.58,264.00 875.42,261.25 876.25,261.25 C877.33,261.25 878.42,267.19 879.50,270.00 C880.50,272.59 881.50,277.50 882.50,277.50 C883.50,277.50 884.50,275.00 885.50,275.00 C886.33,275.00 887.17,286.25 888.00,292.50 C888.83,298.75 889.67,309.94 890.50,312.50 C891.58,315.83 892.67,317.50 893.75,317.50 C894.83,317.50 895.92,315.65 897.00,312.50 C898.00,309.59 899.00,300.00 900.00,300.00 C901.00,300.00 902.00,303.75 903.00,303.75 C903.83,303.75 904.67,291.31 905.50,288.75 C906.58,285.42 907.67,283.75 908.75,283.75 C910.00,283.75 911.25,284.46 912.50,285.00 C913.75,285.54 915.00,285.67 916.25,287.00 C917.08,287.89 917.92,308.75 918.75,308.75 C919.58,308.75 920.42,292.02 921.25,286.25 C922.33,278.75 923.42,272.50 924.50,272.50 C925.33,272.50 926.17,276.46 927.00,280.00 C927.83,283.54 928.67,293.75 929.50,293.75 C930.50,293.75 931.50,293.17 932.50,292.00 C933.33,291.03 934.17,288.88 935.00,287.50 C935.83,286.12 936.67,285.50 937.50,283.75 C938.33,282.00 939.17,277.00 940.00,277.00 C941.00,277.00 942.00,283.00 943.00,283.00 C944.08,283.00 945.17,278.75 946.25,278.75 C947.08,278.75 947.92,289.94 948.75,292.50 C949.83,295.83 950.92,294.82 952.00,297.50 C953.00,299.97 954.00,307.50 955.00,307.50 C955.83,307.50 956.67,302.50 957.50,302.50 C958.33,302.50 959.17,307.83 960.00,310.00 C960.83,312.17 961.67,315.50 962.50,315.50 C963.27,315.50 964.03,298.77 964.80,298.30 C966.00,297.57 967.20,297.20 968.40,297.20 C969.60,297.20 970.80,297.67 972.00,298.60 C973.20,299.53 974.40,303.40 975.60,304.00 C976.80,304.60 978.00,304.90 979.20,304.90 C980.40,304.90 981.60,304.30 982.80,304.00 C984.00,303.70 985.20,303.10 986.40,303.10 C987.60,303.10 988.80,303.41 990.00,304.00 C990.90,304.44 991.80,305.80 992.70,305.80 C993.30,305.80 993.90,301.30 994.50,301.30 C995.40,301.30 996.30,303.10 997.20,303.10 C998.40,303.10 999.60,297.40 1000.80,295.00 C1002.00,292.60 1003.20,290.65 1004.40,288.70 C1005.60,286.75 1006.80,285.02 1008.00,283.30" fill="none" stroke="#a6b0c3" stroke-width="2" stroke-linejoin="round" stroke-linecap="round"/>
<!-- fg line -->
<g fill="none" stroke-width="2" stroke-linejoin="round" stroke-linecap="round">
<path d="M55.50,176.00 C55.83,182.93 56.17,189.87 56.50,196.00 C57.00,205.20 57.50,213.93 58.00,220.00 C58.67,228.10 59.33,229.63 60.00,234.00 C60.83,239.46 61.67,249.00 62.50,249.00 C63.67,249.00 64.83,234.00 66.00,234.00 C67.33,234.00 68.67,234.33 70.00,235.00 C71.33,235.67 72.67,240.00 74.00,240.00 C75.00,240.00 76.00,235.00 77.00,225.00 C77.58,219.17 78.17,196.00 78.75,196.00 C79.50,196.00 80.25,205.50 81.00,205.50 C82.00,205.50 83.00,177.00 84.00,177.00 C84.83,177.00 85.67,186.00 86.50,190.00 C87.33,194.00 88.17,201.00 89.00,201.00 C90.83,201.00 92.67,177.00 94.50,177.00 C95.00,177.00 95.50,195.50 96.00,195.50 C97.67,195.50 99.33,192.50 101.00,192.50 C102.00,192.50 103.00,193.67 104.00,196.00 C105.33,199.11 106.67,206.75 108.00,212.00 C109.33,217.25 110.67,227.50 112.00,227.50 C113.73,227.50 115.47,214.30 117.20,214.30 C118.13,214.30 119.07,219.29 120.00,224.00 C120.77,227.87 121.53,233.42 122.30,238.60 C123.30,245.36 124.30,260.50 125.30,260.50 C126.30,260.50 127.30,243.60 128.30,243.60 C129.00,243.60 129.70,254.36 130.40,258.80 C131.40,265.14 132.40,273.83 133.40,274.00 C137.27,274.67 141.13,275.00 145.00,275.00 C145.67,275.00 146.33,268.75 147.00,268.75 C147.58,268.75 148.17,274.50 148.75,274.50 C149.58,274.50 150.42,262.38 151.25,260.00 C151.83,258.33 152.42,257.50 153.00,257.50 C153.67,257.50 154.33,263.75 155.00,263.75 C155.83,263.75 156.67,256.25 157.50,255.75 C158.33,255.25 159.17,255.00 160.00,255.00 C160.83,255.00 161.67,263.89 162.50,265.00 C163.75,266.67 165.00,267.50 166.25,267.50 C167.50,267.50 168.75,265.83 170.00,262.50 C170.83,260.28 171.67,248.75 172.50,248.75 C173.33,248.75 174.17,265.00 175.00,265.00 C175.83,265.00 176.67,260.83 177.50,260.00 C178.33,259.17 179.17,258.75 180.00,258.75 C180.67,258.75 181.33,259.00 182.00,259.50 C182.58,259.94 183.17,272.39 183.75,280.00 C184.17,285.44 184.58,294.38 185.00,297.50 C185.67,302.50 186.33,300.89 187.00,305.00 C187.58,308.60 188.17,319.50 188.75,319.50 C189.58,319.50 190.42,317.50 191.25,317.50 C191.83,317.50 192.42,318.71 193.00,319.00 C193.67,319.33 194.33,319.50 195.00,319.50 C195.83,319.50 196.67,289.90 197.50,280.00 C198.17,272.08 198.83,262.50 199.50,262.50 C200.08,262.50 200.67,284.58 201.25,292.50 C201.83,300.42 202.42,310.00 203.00,310.00 C203.67,310.00 204.33,307.70 205.00,305.00 C205.83,301.62 206.67,290.00 207.50,290.00 C208.33,290.00 209.17,290.83 210.00,292.50 C210.83,294.17 211.67,305.00 212.50,307.50 C213.33,310.00 214.17,308.75 215.00,311.25 C215.67,313.25 216.33,321.14 217.00,325.00 C218.00,330.79 219.00,337.50 220.00,337.50 C220.83,337.50 221.67,329.17 222.50,326.25 C223.33,323.33 224.17,320.00 225.00,320.00 C225.83,320.00 226.67,326.00 227.50,326.00 C228.17,326.00 228.83,325.25 229.50,323.75 C230.08,322.44 230.67,313.67 231.25,312.50 C232.08,310.83 232.92,310.00 233.75,310.00 C234.58,310.00 235.42,312.50 236.25,312.50 C237.08,312.50 237.92,306.25 238.75,306.25 C239.58,306.25 240.42,310.00 241.25,310.00 C242.08,310.00 242.92,288.00 243.75,288.00 C244.33,288.00 244.92,300.00 245.50,300.00 C247.00,300.00 248.50,300.00 250.00,300.00 C251.00,300.00 252.00,295.94 253.00,292.50 C254.08,288.77 255.17,278.00 256.25,278.00 C257.50,278.00 258.75,278.25 260.00,278.75 C261.25,279.25 262.50,281.25 263.75,281.25 C264.33,281.25 264.92,281.00 265.50,281.00 C266.83,281.00 268.17,309.50 269.50,309.50 C271.33,309.50 273.17,309.50 275.00,309.50 C276.00,309.50 277.00,293.75 278.00,293.75 C278.67,293.75 279.33,310.00 280.00,310.00 C281.25,310.00 282.50,307.17 283.75,305.00 C284.58,303.56 285.42,300.00 286.25,300.00 C287.08,300.00 287.92,301.67 288.75,305.00 C289.17,306.67 289.58,319.58 290.00,322.50 C290.83,328.33 291.67,331.25 292.50,331.25 C293.17,331.25 293.83,326.25 294.50,326.25 C295.25,326.25 296.00,337.50 296.75,337.50 C297.25,337.50 297.75,331.60 298.25,327.50 C298.83,322.71 299.42,310.00 300.00,310.00 C300.42,310.00 300.83,318.75 301.25,318.75 C302.08,318.75 302.92,315.62 303.75,310.00 C304.58,304.38 305.42,285.67 306.25,285.00 C306.67,284.67 307.08,284.50 307.50,284.50 C307.92,284.50 308.33,292.50 308.75,292.50 C309.17,292.50 309.58,288.75 310.00,288.75 C310.42,288.75 310.83,288.75 311.25,288.75 C312.50,288.75 313.75,293.75 315.00,293.75 C316.67,293.75 318.33,287.08 320.00,285.00 C321.67,282.92 323.33,283.37 325.00,281.25 C326.25,279.66 327.50,279.17 328.75,275.00 C329.33,273.06 329.92,267.54 330.50,260.00 C331.00,253.53 331.50,241.63 332.00,235.00 C332.58,227.26 333.17,218.75 333.75,218.75 C335.00,218.75 336.25,221.25 337.50,221.25 C338.75,221.25 340.00,218.00 341.25,218.00 C342.33,218.00 343.42,218.25 344.50,218.75 C345.08,219.02 345.67,223.75 346.25,223.75 C347.08,223.75 347.92,218.25 348.75,218.25 C350.42,218.25 352.08,223.75 353.75,223.75 C355.42,223.75 357.08,208.75 358.75,208.75 C359.58,208.75 360.42,212.60 361.25,215.00 C362.67,219.08 364.08,230.00 365.50,230.00 C366.58,230.00 367.67,219.47 368.75,218.75 C370.00,217.92 371.25,218.33 372.50,217.50 C373.08,217.11 373.67,210.42 374.25,196.25 C374.50,190.18 374.75,164.25 375.00,163.75 C375.83,162.08 376.67,162.92 377.50,161.25 C378.50,159.25 379.50,148.75 380.50,148.75 C381.58,148.75 382.67,156.25 383.75,156.25 C385.00,156.25 386.25,151.25 387.50,151.25 C388.33,151.25 389.17,157.69 390.00,160.00 C391.25,163.46 392.50,163.75 393.75,166.25 C395.00,168.75 396.25,175.00 397.50,175.00 C398.17,175.00 398.83,173.31 399.50,171.25 C400.25,168.94 401.00,161.25 401.75,161.25 C402.42,161.25 403.08,170.00 403.75,170.00 C404.83,170.00 405.92,169.17 407.00,167.50 C408.00,165.96 409.00,156.75 410.00,152.50 C410.67,149.67 411.33,145.00 412.00,145.00 C412.75,145.00 413.50,171.25 414.25,171.25 C415.33,171.25 416.42,171.25 417.50,171.25 C418.50,171.25 419.50,167.50 420.50,167.50 C422.00,167.50 423.50,168.75 425.00,171.25 C425.83,172.64 426.67,176.81 427.50,180.00 C428.75,184.79 430.00,187.83 431.25,196.25 C431.83,200.18 432.42,210.00 433.00,210.00 C434.08,210.00 435.17,208.43 436.25,207.50 C437.92,206.07 439.58,202.50 441.25,202.50 C442.50,202.50 443.75,204.17 445.00,207.50 C445.83,209.72 446.67,216.39 447.50,225.00 C447.92,229.31 448.33,240.00 448.75,240.00 C449.58,240.00 450.42,221.00 451.25,218.00 C452.50,213.50 453.75,215.75 455.00,211.25 C455.83,208.25 456.67,201.81 457.50,197.50 C458.75,191.04 460.00,180.00 461.25,180.00 C462.33,180.00 463.42,189.66 464.50,196.25 C465.50,202.33 466.50,212.38 467.50,217.50 C468.75,223.90 470.00,227.50 471.25,227.50 C472.50,227.50 473.75,223.04 475.00,221.25 C476.00,219.81 477.00,217.50 478.00,217.50 C478.83,217.50 479.67,232.07 480.50,232.50 C482.42,233.50 484.33,233.00 486.25,234.00 C487.50,234.65 488.75,240.82 490.00,247.50 C490.83,251.95 491.67,260.06 492.50,263.75 C492.92,265.60 493.33,268.00 493.75,268.00 C494.17,268.00 494.58,259.00 495.00,255.00 C495.83,247.00 496.67,238.33 497.50,235.00 C498.75,230.00 500.00,227.50 501.25,227.50 C502.50,227.50 503.75,230.50 505.00,230.50 C506.25,230.50 507.50,229.92 508.75,228.75 C510.00,227.58 511.25,221.25 512.50,221.25 C513.33,221.25 514.17,228.56 515.00,232.00 C515.67,234.76 516.33,240.00 517.00,240.00 C518.00,240.00 519.00,218.10 520.00,214.00 C520.42,212.29 520.83,211.25 521.25,211.25 C522.08,211.25 522.92,222.50 523.75,222.50 C524.58,222.50 525.42,219.00 526.25,219.00 C527.08,219.00 527.92,226.25 528.75,226.25 C530.00,226.25 531.25,225.83 532.50,225.00 C533.75,224.17 535.00,213.21 536.25,207.50 C537.08,203.69 537.92,202.50 538.75,196.25 C539.58,190.00 540.42,173.33 541.25,170.00 C542.08,166.67 542.92,165.00 543.75,165.00 C545.00,165.00 546.25,168.75 547.50,168.75 C548.50,168.75 549.50,165.00 550.50,165.00 C551.58,165.00 552.67,169.50 553.75,169.50 C555.00,169.50 556.25,163.75 557.50,162.50 C558.33,161.67 559.17,161.25 560.00,161.25 C560.83,161.25 561.67,166.39 562.50,167.50 C563.75,169.17 565.00,169.08 566.25,170.00 C567.50,170.92 568.75,173.00 570.00,173.00 C570.83,173.00 571.67,165.00 572.50,165.00 C573.33,165.00 574.17,172.08 575.00,173.75 C576.25,176.25 577.50,175.88 578.75,177.50 C579.58,178.58 580.42,181.25 581.25,181.25 C582.08,181.25 582.92,179.07 583.75,177.50 C584.33,176.40 584.92,173.75 585.50,173.75 C586.00,173.75 586.50,182.92 587.00,183.75 C588.00,185.42 589.00,185.60 590.00,186.25 C590.83,186.79 591.67,186.67 592.50,187.50 C593.17,188.17 593.83,192.39 594.50,196.25 C595.50,202.04 596.50,214.06 597.50,220.00 C598.75,227.42 600.00,233.00 601.25,233.00 C602.08,233.00 602.92,227.96 603.75,225.00 C604.83,221.16 605.92,212.00 607.00,212.00 C608.00,212.00 609.00,220.00 610.00,220.00 C610.83,220.00 611.67,212.17 612.50,208.75 C613.33,205.33 614.17,199.50 615.00,199.50 C615.83,199.50 616.67,201.25 617.50,201.25 C618.33,201.25 619.17,197.88 620.00,196.00 C620.83,194.12 621.67,190.00 622.50,190.00 C623.33,190.00 624.17,193.75 625.00,193.75 C626.00,193.75 627.00,187.38 628.00,182.50 C628.67,179.25 629.33,171.25 630.00,171.25 C630.67,171.25 631.33,190.84 632.00,196.25 C632.58,200.99 633.17,203.36 633.75,203.75 C635.00,204.58 636.25,204.17 637.50,205.00 C638.50,205.67 639.50,206.25 640.50,208.75 C641.33,210.83 642.17,214.38 643.00,220.00 C643.83,225.62 644.67,242.50 645.50,242.50 C646.33,242.50 647.17,228.75 648.00,228.75 C648.83,228.75 649.67,240.00 650.50,240.00 C651.58,240.00 652.67,208.75 653.75,208.75 C654.58,208.75 655.42,214.38 656.25,217.50 C657.08,220.62 657.92,223.16 658.75,227.50 C659.83,233.14 660.92,249.50 662.00,249.50 C662.83,249.50 663.67,237.50 664.50,237.50 C665.33,237.50 666.17,241.25 667.00,241.25 C667.83,241.25 668.67,237.00 669.50,237.00 C670.33,237.00 671.17,256.37 672.00,258.75 C672.58,260.42 673.17,261.25 673.75,261.25 C674.58,261.25 675.42,260.00 676.25,260.00 C677.08,260.00 677.92,262.50 678.75,262.50 C679.58,262.50 680.42,261.67 681.25,260.00 C681.83,258.83 682.42,254.57 683.00,252.50 C683.83,249.54 684.67,246.25 685.50,246.25 C686.33,246.25 687.17,253.72 688.00,255.00 C689.08,256.67 690.17,256.40 691.25,257.50 C691.83,258.09 692.42,259.50 693.00,259.50 C693.83,259.50 694.67,253.36 695.50,251.25 C696.58,248.50 697.67,246.25 698.75,246.25 C699.58,246.25 700.42,249.50 701.25,249.50 C702.08,249.50 702.92,241.58 703.75,237.50 C704.58,233.42 705.42,228.25 706.25,225.00 C707.08,221.75 707.92,218.00 708.75,218.00 C709.83,218.00 710.92,219.83 712.00,221.25 C713.17,222.78 714.33,227.00 715.50,227.00 C716.33,227.00 717.17,225.52 718.00,225.00 C719.08,224.33 720.17,223.75 721.25,223.75 C721.83,223.75 722.42,225.00 723.00,225.00 C723.67,225.00 724.33,221.25 725.00,221.25 C725.67,221.25 726.33,231.87 727.00,232.50 C728.42,233.83 729.83,233.17 731.25,234.50 C732.08,235.28 732.92,239.71 733.75,245.00 C734.33,248.70 734.92,257.00 735.50,258.75 C736.33,261.25 737.17,262.50 738.00,262.50 C738.83,262.50 739.67,257.00 740.50,257.00 C741.17,257.00 741.83,282.50 742.50,282.50 C743.33,282.50 744.17,279.31 745.00,278.75 C746.25,277.92 747.50,278.33 748.75,277.50 C749.58,276.94 750.42,264.85 751.25,260.00 C751.83,256.60 752.42,252.07 753.00,251.25 C753.83,250.08 754.67,250.67 755.50,249.50 C756.33,248.33 757.17,242.00 758.00,235.00 C758.83,228.00 759.67,212.50 760.50,207.50 C761.33,202.50 762.17,200.00 763.00,200.00 C763.83,200.00 764.67,201.25 765.50,201.25 C766.58,201.25 767.67,199.88 768.75,197.50 C769.58,195.67 770.42,190.00 771.25,190.00 C772.08,190.00 772.92,210.00 773.75,210.00 C774.58,210.00 775.42,203.75 776.25,203.75 C776.83,203.75 777.42,204.58 778.00,206.25 C778.67,208.15 779.33,213.75 780.00,222.50 C780.67,231.25 781.33,248.78 782.00,258.75 C782.83,271.22 783.67,286.25 784.50,286.25 C785.33,286.25 786.17,282.92 787.00,276.25 C787.58,271.58 788.17,255.00 788.75,255.00 C789.58,255.00 790.42,255.42 791.25,256.25 C792.08,257.08 792.92,265.47 793.75,270.00 C795.00,276.79 796.25,283.10 797.50,290.00 C798.50,295.52 799.50,307.00 800.50,307.00 C801.58,307.00 802.67,298.82 803.75,295.00 C805.00,290.59 806.25,282.50 807.50,282.50 C808.33,282.50 809.17,283.33 810.00,285.00 C810.83,286.67 811.67,296.25 812.50,296.25 C813.33,296.25 814.17,290.03 815.00,287.50 C816.25,283.71 817.50,281.42 818.75,278.75 C819.58,276.97 820.42,277.08 821.25,273.75 C822.08,270.42 822.92,256.33 823.75,255.00 C824.58,253.67 825.42,253.00 826.25,253.00 C827.08,253.00 827.92,256.33 828.75,260.00 C829.58,263.67 830.42,270.93 831.25,275.00 C832.50,281.10 833.75,287.00 835.00,287.00 C836.25,287.00 837.50,279.94 838.75,277.50 C840.17,274.73 841.58,272.00 843.00,272.00 C843.67,272.00 844.33,287.96 845.00,295.00 C846.00,305.57 847.00,322.50 848.00,322.50 C849.08,322.50 850.17,310.00 851.25,310.00 C852.08,310.00 852.92,317.50 853.75,317.50 C854.58,317.50 855.42,307.50 856.25,307.50 C857.08,307.50 857.92,308.75 858.75,308.75 C859.33,308.75 859.92,300.53 860.50,297.50 C861.58,291.86 862.67,288.00 863.75,288.00 C864.58,288.00 865.42,301.19 866.25,303.75 C867.33,307.08 868.42,305.42 869.50,308.75 C870.33,311.31 871.17,318.51 872.00,322.50 C872.58,325.29 873.17,330.00 873.75,330.00 C874.58,330.00 875.42,329.50 876.25,329.50 C877.33,329.50 878.42,331.15 879.50,332.50 C880.33,333.54 881.17,336.25 882.00,336.25 C883.00,336.25 884.00,336.25 885.00,336.25 C886.00,336.25 887.00,342.38 888.00,345.00 C889.08,347.84 890.17,351.42 891.25,352.50 C892.08,353.33 892.92,353.75 893.75,353.75 C894.58,353.75 895.42,352.92 896.25,351.25 C897.33,349.08 898.42,339.65 899.50,338.75 C900.50,337.92 901.50,338.33 902.50,337.50 C903.33,336.81 904.17,333.43 905.00,331.25 C906.00,328.64 907.00,323.22 908.00,323.00 C909.50,322.67 911.00,322.50 912.50,322.50 C913.75,322.50 915.00,322.67 916.25,323.00 C916.83,323.16 917.42,333.75 918.00,333.75 C918.67,333.75 919.33,326.46 920.00,322.50 C920.67,318.54 921.33,313.28 922.00,310.00 C923.00,305.08 924.00,301.25 925.00,301.25 C925.67,301.25 926.33,304.25 927.00,306.25 C928.00,309.25 929.00,317.50 930.00,317.50 C931.25,317.50 932.50,316.25 933.75,313.75 C934.83,311.58 935.92,306.41 937.00,302.50 C938.00,298.89 939.00,291.25 940.00,291.25 C941.00,291.25 942.00,293.75 943.00,293.75 C943.83,293.75 944.67,292.50 945.50,292.50 C946.58,292.50 947.67,302.00 948.75,302.00 C949.58,302.00 950.42,300.00 951.25,300.00 C952.08,300.00 952.92,312.47 953.75,313.75 C954.83,315.42 955.92,316.25 957.00,316.25 C957.83,316.25 958.67,311.25 959.50,311.25 C960.50,311.25 961.50,318.75 962.50,318.75 C963.33,318.75 964.17,316.25 965.00,311.25 C965.53,308.05 966.07,298.55 966.60,297.70 C968.10,295.30 969.60,294.10 971.10,294.10 C972.30,294.10 973.50,294.10 974.70,294.10 C975.30,294.10 975.90,299.50 976.50,299.50 C977.40,299.50 978.30,297.70 979.20,297.70 C980.40,297.70 981.60,299.50 982.80,299.50 C983.70,299.50 984.60,295.90 985.50,295.90 C986.40,295.90 987.30,297.20 988.20,297.20 C989.40,297.20 990.60,295.87 991.80,293.20 C992.40,291.87 993.00,289.30 993.60,287.80 C994.20,286.30 994.80,284.20 995.40,284.20 C996.30,284.20 997.20,286.90 998.10,286.90 C998.70,286.90 999.30,282.18 999.90,279.70 C1000.80,275.98 1001.70,271.15 1002.60,268.00 C1003.50,264.85 1004.40,263.20 1005.30,260.80 C1006.20,258.40 1007.10,258.40 1008.00,253.60 C1008.42,251.38 1008.83,246.31 1009.25,241.25" stroke="#7fd31b" clip-path="url(#cg)"/>
<path d="M55.50,176.00 C55.83,182.93 56.17,189.87 56.50,196.00 C57.00,205.20 57.50,213.93 58.00,220.00 C58.67,228.10 59.33,229.63 60.00,234.00 C60.83,239.46 61.67,249.00 62.50,249.00 C63.67,249.00 64.83,234.00 66.00,234.00 C67.33,234.00 68.67,234.33 70.00,235.00 C71.33,235.67 72.67,240.00 74.00,240.00 C75.00,240.00 76.00,235.00 77.00,225.00 C77.58,219.17 78.17,196.00 78.75,196.00 C79.50,196.00 80.25,205.50 81.00,205.50 C82.00,205.50 83.00,177.00 84.00,177.00 C84.83,177.00 85.67,186.00 86.50,190.00 C87.33,194.00 88.17,201.00 89.00,201.00 C90.83,201.00 92.67,177.00 94.50,177.00 C95.00,177.00 95.50,195.50 96.00,195.50 C97.67,195.50 99.33,192.50 101.00,192.50 C102.00,192.50 103.00,193.67 104.00,196.00 C105.33,199.11 106.67,206.75 108.00,212.00 C109.33,217.25 110.67,227.50 112.00,227.50 C113.73,227.50 115.47,214.30 117.20,214.30 C118.13,214.30 119.07,219.29 120.00,224.00 C120.77,227.87 121.53,233.42 122.30,238.60 C123.30,245.36 124.30,260.50 125.30,260.50 C126.30,260.50 127.30,243.60 128.30,243.60 C129.00,243.60 129.70,254.36 130.40,258.80 C131.40,265.14 132.40,273.83 133.40,274.00 C137.27,274.67 141.13,275.00 145.00,275.00 C145.67,275.00 146.33,268.75 147.00,268.75 C147.58,268.75 148.17,274.50 148.75,274.50 C149.58,274.50 150.42,262.38 151.25,260.00 C151.83,258.33 152.42,257.50 153.00,257.50 C153.67,257.50 154.33,263.75 155.00,263.75 C155.83,263.75 156.67,256.25 157.50,255.75 C158.33,255.25 159.17,255.00 160.00,255.00 C160.83,255.00 161.67,263.89 162.50,265.00 C163.75,266.67 165.00,267.50 166.25,267.50 C167.50,267.50 168.75,265.83 170.00,262.50 C170.83,260.28 171.67,248.75 172.50,248.75 C173.33,248.75 174.17,265.00 175.00,265.00 C175.83,265.00 176.67,260.83 177.50,260.00 C178.33,259.17 179.17,258.75 180.00,258.75 C180.67,258.75 181.33,259.00 182.00,259.50 C182.58,259.94 183.17,272.39 183.75,280.00 C184.17,285.44 184.58,294.38 185.00,297.50 C185.67,302.50 186.33,300.89 187.00,305.00 C187.58,308.60 188.17,319.50 188.75,319.50 C189.58,319.50 190.42,317.50 191.25,317.50 C191.83,317.50 192.42,318.71 193.00,319.00 C193.67,319.33 194.33,319.50 195.00,319.50 C195.83,319.50 196.67,289.90 197.50,280.00 C198.17,272.08 198.83,262.50 199.50,262.50 C200.08,262.50 200.67,284.58 201.25,292.50 C201.83,300.42 202.42,310.00 203.00,310.00 C203.67,310.00 204.33,307.70 205.00,305.00 C205.83,301.62 206.67,290.00 207.50,290.00 C208.33,290.00 209.17,290.83 210.00,292.50 C210.83,294.17 211.67,305.00 212.50,307.50 C213.33,310.00 214.17,308.75 215.00,311.25 C215.67,313.25 216.33,321.14 217.00,325.00 C218.00,330.79 219.00,337.50 220.00,337.50 C220.83,337.50 221.67,329.17 222.50,326.25 C223.33,323.33 224.17,320.00 225.00,320.00 C225.83,320.00 226.67,326.00 227.50,326.00 C228.17,326.00 228.83,325.25 229.50,323.75 C230.08,322.44 230.67,313.67 231.25,312.50 C232.08,310.83 232.92,310.00 233.75,310.00 C234.58,310.00 235.42,312.50 236.25,312.50 C237.08,312.50 237.92,306.25 238.75,306.25 C239.58,306.25 240.42,310.00 241.25,310.00 C242.08,310.00 242.92,288.00 243.75,288.00 C244.33,288.00 244.92,300.00 245.50,300.00 C247.00,300.00 248.50,300.00 250.00,300.00 C251.00,300.00 252.00,295.94 253.00,292.50 C254.08,288.77 255.17,278.00 256.25,278.00 C257.50,278.00 258.75,278.25 260.00,278.75 C261.25,279.25 262.50,281.25 263.75,281.25 C264.33,281.25 264.92,281.00 265.50,281.00 C266.83,281.00 268.17,309.50 269.50,309.50 C271.33,309.50 273.17,309.50 275.00,309.50 C276.00,309.50 277.00,293.75 278.00,293.75 C278.67,293.75 279.33,310.00 280.00,310.00 C281.25,310.00 282.50,307.17 283.75,305.00 C284.58,303.56 285.42,300.00 286.25,300.00 C287.08,300.00 287.92,301.67 288.75,305.00 C289.17,306.67 289.58,319.58 290.00,322.50 C290.83,328.33 291.67,331.25 292.50,331.25 C293.17,331.25 293.83,326.25 294.50,326.25 C295.25,326.25 296.00,337.50 296.75,337.50 C297.25,337.50 297.75,331.60 298.25,327.50 C298.83,322.71 299.42,310.00 300.00,310.00 C300.42,310.00 300.83,318.75 301.25,318.75 C302.08,318.75 302.92,315.62 303.75,310.00 C304.58,304.38 305.42,285.67 306.25,285.00 C306.67,284.67 307.08,284.50 307.50,284.50 C307.92,284.50 308.33,292.50 308.75,292.50 C309.17,292.50 309.58,288.75 310.00,288.75 C310.42,288.75 310.83,288.75 311.25,288.75 C312.50,288.75 313.75,293.75 315.00,293.75 C316.67,293.75 318.33,287.08 320.00,285.00 C321.67,282.92 323.33,283.37 325.00,281.25 C326.25,279.66 327.50,279.17 328.75,275.00 C329.33,273.06 329.92,267.54 330.50,260.00 C331.00,253.53 331.50,241.63 332.00,235.00 C332.58,227.26 333.17,218.75 333.75,218.75 C335.00,218.75 336.25,221.25 337.50,221.25 C338.75,221.25 340.00,218.00 341.25,218.00 C342.33,218.00 343.42,218.25 344.50,218.75 C345.08,219.02 345.67,223.75 346.25,223.75 C347.08,223.75 347.92,218.25 348.75,218.25 C350.42,218.25 352.08,223.75 353.75,223.75 C355.42,223.75 357.08,208.75 358.75,208.75 C359.58,208.75 360.42,212.60 361.25,215.00 C362.67,219.08 364.08,230.00 365.50,230.00 C366.58,230.00 367.67,219.47 368.75,218.75 C370.00,217.92 371.25,218.33 372.50,217.50 C373.08,217.11 373.67,210.42 374.25,196.25 C374.50,190.18 374.75,164.25 375.00,163.75 C375.83,162.08 376.67,162.92 377.50,161.25 C378.50,159.25 379.50,148.75 380.50,148.75 C381.58,148.75 382.67,156.25 383.75,156.25 C385.00,156.25 386.25,151.25 387.50,151.25 C388.33,151.25 389.17,157.69 390.00,160.00 C391.25,163.46 392.50,163.75 393.75,166.25 C395.00,168.75 396.25,175.00 397.50,175.00 C398.17,175.00 398.83,173.31 399.50,171.25 C400.25,168.94 401.00,161.25 401.75,161.25 C402.42,161.25 403.08,170.00 403.75,170.00 C404.83,170.00 405.92,169.17 407.00,167.50 C408.00,165.96 409.00,156.75 410.00,152.50 C410.67,149.67 411.33,145.00 412.00,145.00 C412.75,145.00 413.50,171.25 414.25,171.25 C415.33,171.25 416.42,171.25 417.50,171.25 C418.50,171.25 419.50,167.50 420.50,167.50 C422.00,167.50 423.50,168.75 425.00,171.25 C425.83,172.64 426.67,176.81 427.50,180.00 C428.75,184.79 430.00,187.83 431.25,196.25 C431.83,200.18 432.42,210.00 433.00,210.00 C434.08,210.00 435.17,208.43 436.25,207.50 C437.92,206.07 439.58,202.50 441.25,202.50 C442.50,202.50 443.75,204.17 445.00,207.50 C445.83,209.72 446.67,216.39 447.50,225.00 C447.92,229.31 448.33,240.00 448.75,240.00 C449.58,240.00 450.42,221.00 451.25,218.00 C452.50,213.50 453.75,215.75 455.00,211.25 C455.83,208.25 456.67,201.81 457.50,197.50 C458.75,191.04 460.00,180.00 461.25,180.00 C462.33,180.00 463.42,189.66 464.50,196.25 C465.50,202.33 466.50,212.38 467.50,217.50 C468.75,223.90 470.00,227.50 471.25,227.50 C472.50,227.50 473.75,223.04 475.00,221.25 C476.00,219.81 477.00,217.50 478.00,217.50 C478.83,217.50 479.67,232.07 480.50,232.50 C482.42,233.50 484.33,233.00 486.25,234.00 C487.50,234.65 488.75,240.82 490.00,247.50 C490.83,251.95 491.67,260.06 492.50,263.75 C492.92,265.60 493.33,268.00 493.75,268.00 C494.17,268.00 494.58,259.00 495.00,255.00 C495.83,247.00 496.67,238.33 497.50,235.00 C498.75,230.00 500.00,227.50 501.25,227.50 C502.50,227.50 503.75,230.50 505.00,230.50 C506.25,230.50 507.50,229.92 508.75,228.75 C510.00,227.58 511.25,221.25 512.50,221.25 C513.33,221.25 514.17,228.56 515.00,232.00 C515.67,234.76 516.33,240.00 517.00,240.00 C518.00,240.00 519.00,218.10 520.00,214.00 C520.42,212.29 520.83,211.25 521.25,211.25 C522.08,211.25 522.92,222.50 523.75,222.50 C524.58,222.50 525.42,219.00 526.25,219.00 C527.08,219.00 527.92,226.25 528.75,226.25 C530.00,226.25 531.25,225.83 532.50,225.00 C533.75,224.17 535.00,213.21 536.25,207.50 C537.08,203.69 537.92,202.50 538.75,196.25 C539.58,190.00 540.42,173.33 541.25,170.00 C542.08,166.67 542.92,165.00 543.75,165.00 C545.00,165.00 546.25,168.75 547.50,168.75 C548.50,168.75 549.50,165.00 550.50,165.00 C551.58,165.00 552.67,169.50 553.75,169.50 C555.00,169.50 556.25,163.75 557.50,162.50 C558.33,161.67 559.17,161.25 560.00,161.25 C560.83,161.25 561.67,166.39 562.50,167.50 C563.75,169.17 565.00,169.08 566.25,170.00 C567.50,170.92 568.75,173.00 570.00,173.00 C570.83,173.00 571.67,165.00 572.50,165.00 C573.33,165.00 574.17,172.08 575.00,173.75 C576.25,176.25 577.50,175.88 578.75,177.50 C579.58,178.58 580.42,181.25 581.25,181.25 C582.08,181.25 582.92,179.07 583.75,177.50 C584.33,176.40 584.92,173.75 585.50,173.75 C586.00,173.75 586.50,182.92 587.00,183.75 C588.00,185.42 589.00,185.60 590.00,186.25 C590.83,186.79 591.67,186.67 592.50,187.50 C593.17,188.17 593.83,192.39 594.50,196.25 C595.50,202.04 596.50,214.06 597.50,220.00 C598.75,227.42 600.00,233.00 601.25,233.00 C602.08,233.00 602.92,227.96 603.75,225.00 C604.83,221.16 605.92,212.00 607.00,212.00 C608.00,212.00 609.00,220.00 610.00,220.00 C610.83,220.00 611.67,212.17 612.50,208.75 C613.33,205.33 614.17,199.50 615.00,199.50 C615.83,199.50 616.67,201.25 617.50,201.25 C618.33,201.25 619.17,197.88 620.00,196.00 C620.83,194.12 621.67,190.00 622.50,190.00 C623.33,190.00 624.17,193.75 625.00,193.75 C626.00,193.75 627.00,187.38 628.00,182.50 C628.67,179.25 629.33,171.25 630.00,171.25 C630.67,171.25 631.33,190.84 632.00,196.25 C632.58,200.99 633.17,203.36 633.75,203.75 C635.00,204.58 636.25,204.17 637.50,205.00 C638.50,205.67 639.50,206.25 640.50,208.75 C641.33,210.83 642.17,214.38 643.00,220.00 C643.83,225.62 644.67,242.50 645.50,242.50 C646.33,242.50 647.17,228.75 648.00,228.75 C648.83,228.75 649.67,240.00 650.50,240.00 C651.58,240.00 652.67,208.75 653.75,208.75 C654.58,208.75 655.42,214.38 656.25,217.50 C657.08,220.62 657.92,223.16 658.75,227.50 C659.83,233.14 660.92,249.50 662.00,249.50 C662.83,249.50 663.67,237.50 664.50,237.50 C665.33,237.50 666.17,241.25 667.00,241.25 C667.83,241.25 668.67,237.00 669.50,237.00 C670.33,237.00 671.17,256.37 672.00,258.75 C672.58,260.42 673.17,261.25 673.75,261.25 C674.58,261.25 675.42,260.00 676.25,260.00 C677.08,260.00 677.92,262.50 678.75,262.50 C679.58,262.50 680.42,261.67 681.25,260.00 C681.83,258.83 682.42,254.57 683.00,252.50 C683.83,249.54 684.67,246.25 685.50,246.25 C686.33,246.25 687.17,253.72 688.00,255.00 C689.08,256.67 690.17,256.40 691.25,257.50 C691.83,258.09 692.42,259.50 693.00,259.50 C693.83,259.50 694.67,253.36 695.50,251.25 C696.58,248.50 697.67,246.25 698.75,246.25 C699.58,246.25 700.42,249.50 701.25,249.50 C702.08,249.50 702.92,241.58 703.75,237.50 C704.58,233.42 705.42,228.25 706.25,225.00 C707.08,221.75 707.92,218.00 708.75,218.00 C709.83,218.00 710.92,219.83 712.00,221.25 C713.17,222.78 714.33,227.00 715.50,227.00 C716.33,227.00 717.17,225.52 718.00,225.00 C719.08,224.33 720.17,223.75 721.25,223.75 C721.83,223.75 722.42,225.00 723.00,225.00 C723.67,225.00 724.33,221.25 725.00,221.25 C725.67,221.25 726.33,231.87 727.00,232.50 C728.42,233.83 729.83,233.17 731.25,234.50 C732.08,235.28 732.92,239.71 733.75,245.00 C734.33,248.70 734.92,257.00 735.50,258.75 C736.33,261.25 737.17,262.50 738.00,262.50 C738.83,262.50 739.67,257.00 740.50,257.00 C741.17,257.00 741.83,282.50 742.50,282.50 C743.33,282.50 744.17,279.31 745.00,278.75 C746.25,277.92 747.50,278.33 748.75,277.50 C749.58,276.94 750.42,264.85 751.25,260.00 C751.83,256.60 752.42,252.07 753.00,251.25 C753.83,250.08 754.67,250.67 755.50,249.50 C756.33,248.33 757.17,242.00 758.00,235.00 C758.83,228.00 759.67,212.50 760.50,207.50 C761.33,202.50 762.17,200.00 763.00,200.00 C763.83,200.00 764.67,201.25 765.50,201.25 C766.58,201.25 767.67,199.88 768.75,197.50 C769.58,195.67 770.42,190.00 771.25,190.00 C772.08,190.00 772.92,210.00 773.75,210.00 C774.58,210.00 775.42,203.75 776.25,203.75 C776.83,203.75 777.42,204.58 778.00,206.25 C778.67,208.15 779.33,213.75 780.00,222.50 C780.67,231.25 781.33,248.78 782.00,258.75 C782.83,271.22 783.67,286.25 784.50,286.25 C785.33,286.25 786.17,282.92 787.00,276.25 C787.58,271.58 788.17,255.00 788.75,255.00 C789.58,255.00 790.42,255.42 791.25,256.25 C792.08,257.08 792.92,265.47 793.75,270.00 C795.00,276.79 796.25,283.10 797.50,290.00 C798.50,295.52 799.50,307.00 800.50,307.00 C801.58,307.00 802.67,298.82 803.75,295.00 C805.00,290.59 806.25,282.50 807.50,282.50 C808.33,282.50 809.17,283.33 810.00,285.00 C810.83,286.67 811.67,296.25 812.50,296.25 C813.33,296.25 814.17,290.03 815.00,287.50 C816.25,283.71 817.50,281.42 818.75,278.75 C819.58,276.97 820.42,277.08 821.25,273.75 C822.08,270.42 822.92,256.33 823.75,255.00 C824.58,253.67 825.42,253.00 826.25,253.00 C827.08,253.00 827.92,256.33 828.75,260.00 C829.58,263.67 830.42,270.93 831.25,275.00 C832.50,281.10 833.75,287.00 835.00,287.00 C836.25,287.00 837.50,279.94 838.75,277.50 C840.17,274.73 841.58,272.00 843.00,272.00 C843.67,272.00 844.33,287.96 845.00,295.00 C846.00,305.57 847.00,322.50 848.00,322.50 C849.08,322.50 850.17,310.00 851.25,310.00 C852.08,310.00 852.92,317.50 853.75,317.50 C854.58,317.50 855.42,307.50 856.25,307.50 C857.08,307.50 857.92,308.75 858.75,308.75 C859.33,308.75 859.92,300.53 860.50,297.50 C861.58,291.86 862.67,288.00 863.75,288.00 C864.58,288.00 865.42,301.19 866.25,303.75 C867.33,307.08 868.42,305.42 869.50,308.75 C870.33,311.31 871.17,318.51 872.00,322.50 C872.58,325.29 873.17,330.00 873.75,330.00 C874.58,330.00 875.42,329.50 876.25,329.50 C877.33,329.50 878.42,331.15 879.50,332.50 C880.33,333.54 881.17,336.25 882.00,336.25 C883.00,336.25 884.00,336.25 885.00,336.25 C886.00,336.25 887.00,342.38 888.00,345.00 C889.08,347.84 890.17,351.42 891.25,352.50 C892.08,353.33 892.92,353.75 893.75,353.75 C894.58,353.75 895.42,352.92 896.25,351.25 C897.33,349.08 898.42,339.65 899.50,338.75 C900.50,337.92 901.50,338.33 902.50,337.50 C903.33,336.81 904.17,333.43 905.00,331.25 C906.00,328.64 907.00,323.22 908.00,323.00 C909.50,322.67 911.00,322.50 912.50,322.50 C913.75,322.50 915.00,322.67 916.25,323.00 C916.83,323.16 917.42,333.75 918.00,333.75 C918.67,333.75 919.33,326.46 920.00,322.50 C920.67,318.54 921.33,313.28 922.00,310.00 C923.00,305.08 924.00,301.25 925.00,301.25 C925.67,301.25 926.33,304.25 927.00,306.25 C928.00,309.25 929.00,317.50 930.00,317.50 C931.25,317.50 932.50,316.25 933.75,313.75 C934.83,311.58 935.92,306.41 937.00,302.50 C938.00,298.89 939.00,291.25 940.00,291.25 C941.00,291.25 942.00,293.75 943.00,293.75 C943.83,293.75 944.67,292.50 945.50,292.50 C946.58,292.50 947.67,302.00 948.75,302.00 C949.58,302.00 950.42,300.00 951.25,300.00 C952.08,300.00 952.92,312.47 953.75,313.75 C954.83,315.42 955.92,316.25 957.00,316.25 C957.83,316.25 958.67,311.25 959.50,311.25 C960.50,311.25 961.50,318.75 962.50,318.75 C963.33,318.75 964.17,316.25 965.00,311.25 C965.53,308.05 966.07,298.55 966.60,297.70 C968.10,295.30 969.60,294.10 971.10,294.10 C972.30,294.10 973.50,294.10 974.70,294.10 C975.30,294.10 975.90,299.50 976.50,299.50 C977.40,299.50 978.30,297.70 979.20,297.70 C980.40,297.70 981.60,299.50 982.80,299.50 C983.70,299.50 984.60,295.90 985.50,295.90 C986.40,295.90 987.30,297.20 988.20,297.20 C989.40,297.20 990.60,295.87 991.80,293.20 C992.40,291.87 993.00,289.30 993.60,287.80 C994.20,286.30 994.80,284.20 995.40,284.20 C996.30,284.20 997.20,286.90 998.10,286.90 C998.70,286.90 999.30,282.18 999.90,279.70 C1000.80,275.98 1001.70,271.15 1002.60,268.00 C1003.50,264.85 1004.40,263.20 1005.30,260.80 C1006.20,258.40 1007.10,258.40 1008.00,253.60 C1008.42,251.38 1008.83,246.31 1009.25,241.25" stroke="#f3d42f" clip-path="url(#cy)"/>
<path d="M55.50,176.00 C55.83,182.93 56.17,189.87 56.50,196.00 C57.00,205.20 57.50,213.93 58.00,220.00 C58.67,228.10 59.33,229.63 60.00,234.00 C60.83,239.46 61.67,249.00 62.50,249.00 C63.67,249.00 64.83,234.00 66.00,234.00 C67.33,234.00 68.67,234.33 70.00,235.00 C71.33,235.67 72.67,240.00 74.00,240.00 C75.00,240.00 76.00,235.00 77.00,225.00 C77.58,219.17 78.17,196.00 78.75,196.00 C79.50,196.00 80.25,205.50 81.00,205.50 C82.00,205.50 83.00,177.00 84.00,177.00 C84.83,177.00 85.67,186.00 86.50,190.00 C87.33,194.00 88.17,201.00 89.00,201.00 C90.83,201.00 92.67,177.00 94.50,177.00 C95.00,177.00 95.50,195.50 96.00,195.50 C97.67,195.50 99.33,192.50 101.00,192.50 C102.00,192.50 103.00,193.67 104.00,196.00 C105.33,199.11 106.67,206.75 108.00,212.00 C109.33,217.25 110.67,227.50 112.00,227.50 C113.73,227.50 115.47,214.30 117.20,214.30 C118.13,214.30 119.07,219.29 120.00,224.00 C120.77,227.87 121.53,233.42 122.30,238.60 C123.30,245.36 124.30,260.50 125.30,260.50 C126.30,260.50 127.30,243.60 128.30,243.60 C129.00,243.60 129.70,254.36 130.40,258.80 C131.40,265.14 132.40,273.83 133.40,274.00 C137.27,274.67 141.13,275.00 145.00,275.00 C145.67,275.00 146.33,268.75 147.00,268.75 C147.58,268.75 148.17,274.50 148.75,274.50 C149.58,274.50 150.42,262.38 151.25,260.00 C151.83,258.33 152.42,257.50 153.00,257.50 C153.67,257.50 154.33,263.75 155.00,263.75 C155.83,263.75 156.67,256.25 157.50,255.75 C158.33,255.25 159.17,255.00 160.00,255.00 C160.83,255.00 161.67,263.89 162.50,265.00 C163.75,266.67 165.00,267.50 166.25,267.50 C167.50,267.50 168.75,265.83 170.00,262.50 C170.83,260.28 171.67,248.75 172.50,248.75 C173.33,248.75 174.17,265.00 175.00,265.00 C175.83,265.00 176.67,260.83 177.50,260.00 C178.33,259.17 179.17,258.75 180.00,258.75 C180.67,258.75 181.33,259.00 182.00,259.50 C182.58,259.94 183.17,272.39 183.75,280.00 C184.17,285.44 184.58,294.38 185.00,297.50 C185.67,302.50 186.33,300.89 187.00,305.00 C187.58,308.60 188.17,319.50 188.75,319.50 C189.58,319.50 190.42,317.50 191.25,317.50 C191.83,317.50 192.42,318.71 193.00,319.00 C193.67,319.33 194.33,319.50 195.00,319.50 C195.83,319.50 196.67,289.90 197.50,280.00 C198.17,272.08 198.83,262.50 199.50,262.50 C200.08,262.50 200.67,284.58 201.25,292.50 C201.83,300.42 202.42,310.00 203.00,310.00 C203.67,310.00 204.33,307.70 205.00,305.00 C205.83,301.62 206.67,290.00 207.50,290.00 C208.33,290.00 209.17,290.83 210.00,292.50 C210.83,294.17 211.67,305.00 212.50,307.50 C213.33,310.00 214.17,308.75 215.00,311.25 C215.67,313.25 216.33,321.14 217.00,325.00 C218.00,330.79 219.00,337.50 220.00,337.50 C220.83,337.50 221.67,329.17 222.50,326.25 C223.33,323.33 224.17,320.00 225.00,320.00 C225.83,320.00 226.67,326.00 227.50,326.00 C228.17,326.00 228.83,325.25 229.50,323.75 C230.08,322.44 230.67,313.67 231.25,312.50 C232.08,310.83 232.92,310.00 233.75,310.00 C234.58,310.00 235.42,312.50 236.25,312.50 C237.08,312.50 237.92,306.25 238.75,306.25 C239.58,306.25 240.42,310.00 241.25,310.00 C242.08,310.00 242.92,288.00 243.75,288.00 C244.33,288.00 244.92,300.00 245.50,300.00 C247.00,300.00 248.50,300.00 250.00,300.00 C251.00,300.00 252.00,295.94 253.00,292.50 C254.08,288.77 255.17,278.00 256.25,278.00 C257.50,278.00 258.75,278.25 260.00,278.75 C261.25,279.25 262.50,281.25 263.75,281.25 C264.33,281.25 264.92,281.00 265.50,281.00 C266.83,281.00 268.17,309.50 269.50,309.50 C271.33,309.50 273.17,309.50 275.00,309.50 C276.00,309.50 277.00,293.75 278.00,293.75 C278.67,293.75 279.33,310.00 280.00,310.00 C281.25,310.00 282.50,307.17 283.75,305.00 C284.58,303.56 285.42,300.00 286.25,300.00 C287.08,300.00 287.92,301.67 288.75,305.00 C289.17,306.67 289.58,319.58 290.00,322.50 C290.83,328.33 291.67,331.25 292.50,331.25 C293.17,331.25 293.83,326.25 294.50,326.25 C295.25,326.25 296.00,337.50 296.75,337.50 C297.25,337.50 297.75,331.60 298.25,327.50 C298.83,322.71 299.42,310.00 300.00,310.00 C300.42,310.00 300.83,318.75 301.25,318.75 C302.08,318.75 302.92,315.62 303.75,310.00 C304.58,304.38 305.42,285.67 306.25,285.00 C306.67,284.67 307.08,284.50 307.50,284.50 C307.92,284.50 308.33,292.50 308.75,292.50 C309.17,292.50 309.58,288.75 310.00,288.75 C310.42,288.75 310.83,288.75 311.25,288.75 C312.50,288.75 313.75,293.75 315.00,293.75 C316.67,293.75 318.33,287.08 320.00,285.00 C321.67,282.92 323.33,283.37 325.00,281.25 C326.25,279.66 327.50,279.17 328.75,275.00 C329.33,273.06 329.92,267.54 330.50,260.00 C331.00,253.53 331.50,241.63 332.00,235.00 C332.58,227.26 333.17,218.75 333.75,218.75 C335.00,218.75 336.25,221.25 337.50,221.25 C338.75,221.25 340.00,218.00 341.25,218.00 C342.33,218.00 343.42,218.25 344.50,218.75 C345.08,219.02 345.67,223.75 346.25,223.75 C347.08,223.75 347.92,218.25 348.75,218.25 C350.42,218.25 352.08,223.75 353.75,223.75 C355.42,223.75 357.08,208.75 358.75,208.75 C359.58,208.75 360.42,212.60 361.25,215.00 C362.67,219.08 364.08,230.00 365.50,230.00 C366.58,230.00 367.67,219.47 368.75,218.75 C370.00,217.92 371.25,218.33 372.50,217.50 C373.08,217.11 373.67,210.42 374.25,196.25 C374.50,190.18 374.75,164.25 375.00,163.75 C375.83,162.08 376.67,162.92 377.50,161.25 C378.50,159.25 379.50,148.75 380.50,148.75 C381.58,148.75 382.67,156.25 383.75,156.25 C385.00,156.25 386.25,151.25 387.50,151.25 C388.33,151.25 389.17,157.69 390.00,160.00 C391.25,163.46 392.50,163.75 393.75,166.25 C395.00,168.75 396.25,175.00 397.50,175.00 C398.17,175.00 398.83,173.31 399.50,171.25 C400.25,168.94 401.00,161.25 401.75,161.25 C402.42,161.25 403.08,170.00 403.75,170.00 C404.83,170.00 405.92,169.17 407.00,167.50 C408.00,165.96 409.00,156.75 410.00,152.50 C410.67,149.67 411.33,145.00 412.00,145.00 C412.75,145.00 413.50,171.25 414.25,171.25 C415.33,171.25 416.42,171.25 417.50,171.25 C418.50,171.25 419.50,167.50 420.50,167.50 C422.00,167.50 423.50,168.75 425.00,171.25 C425.83,172.64 426.67,176.81 427.50,180.00 C428.75,184.79 430.00,187.83 431.25,196.25 C431.83,200.18 432.42,210.00 433.00,210.00 C434.08,210.00 435.17,208.43 436.25,207.50 C437.92,206.07 439.58,202.50 441.25,202.50 C442.50,202.50 443.75,204.17 445.00,207.50 C445.83,209.72 446.67,216.39 447.50,225.00 C447.92,229.31 448.33,240.00 448.75,240.00 C449.58,240.00 450.42,221.00 451.25,218.00 C452.50,213.50 453.75,215.75 455.00,211.25 C455.83,208.25 456.67,201.81 457.50,197.50 C458.75,191.04 460.00,180.00 461.25,180.00 C462.33,180.00 463.42,189.66 464.50,196.25 C465.50,202.33 466.50,212.38 467.50,217.50 C468.75,223.90 470.00,227.50 471.25,227.50 C472.50,227.50 473.75,223.04 475.00,221.25 C476.00,219.81 477.00,217.50 478.00,217.50 C478.83,217.50 479.67,232.07 480.50,232.50 C482.42,233.50 484.33,233.00 486.25,234.00 C487.50,234.65 488.75,240.82 490.00,247.50 C490.83,251.95 491.67,260.06 492.50,263.75 C492.92,265.60 493.33,268.00 493.75,268.00 C494.17,268.00 494.58,259.00 495.00,255.00 C495.83,247.00 496.67,238.33 497.50,235.00 C498.75,230.00 500.00,227.50 501.25,227.50 C502.50,227.50 503.75,230.50 505.00,230.50 C506.25,230.50 507.50,229.92 508.75,228.75 C510.00,227.58 511.25,221.25 512.50,221.25 C513.33,221.25 514.17,228.56 515.00,232.00 C515.67,234.76 516.33,240.00 517.00,240.00 C518.00,240.00 519.00,218.10 520.00,214.00 C520.42,212.29 520.83,211.25 521.25,211.25 C522.08,211.25 522.92,222.50 523.75,222.50 C524.58,222.50 525.42,219.00 526.25,219.00 C527.08,219.00 527.92,226.25 528.75,226.25 C530.00,226.25 531.25,225.83 532.50,225.00 C533.75,224.17 535.00,213.21 536.25,207.50 C537.08,203.69 537.92,202.50 538.75,196.25 C539.58,190.00 540.42,173.33 541.25,170.00 C542.08,166.67 542.92,165.00 543.75,165.00 C545.00,165.00 546.25,168.75 547.50,168.75 C548.50,168.75 549.50,165.00 550.50,165.00 C551.58,165.00 552.67,169.50 553.75,169.50 C555.00,169.50 556.25,163.75 557.50,162.50 C558.33,161.67 559.17,161.25 560.00,161.25 C560.83,161.25 561.67,166.39 562.50,167.50 C563.75,169.17 565.00,169.08 566.25,170.00 C567.50,170.92 568.75,173.00 570.00,173.00 C570.83,173.00 571.67,165.00 572.50,165.00 C573.33,165.00 574.17,172.08 575.00,173.75 C576.25,176.25 577.50,175.88 578.75,177.50 C579.58,178.58 580.42,181.25 581.25,181.25 C582.08,181.25 582.92,179.07 583.75,177.50 C584.33,176.40 584.92,173.75 585.50,173.75 C586.00,173.75 586.50,182.92 587.00,183.75 C588.00,185.42 589.00,185.60 590.00,186.25 C590.83,186.79 591.67,186.67 592.50,187.50 C593.17,188.17 593.83,192.39 594.50,196.25 C595.50,202.04 596.50,214.06 597.50,220.00 C598.75,227.42 600.00,233.00 601.25,233.00 C602.08,233.00 602.92,227.96 603.75,225.00 C604.83,221.16 605.92,212.00 607.00,212.00 C608.00,212.00 609.00,220.00 610.00,220.00 C610.83,220.00 611.67,212.17 612.50,208.75 C613.33,205.33 614.17,199.50 615.00,199.50 C615.83,199.50 616.67,201.25 617.50,201.25 C618.33,201.25 619.17,197.88 620.00,196.00 C620.83,194.12 621.67,190.00 622.50,190.00 C623.33,190.00 624.17,193.75 625.00,193.75 C626.00,193.75 627.00,187.38 628.00,182.50 C628.67,179.25 629.33,171.25 630.00,171.25 C630.67,171.25 631.33,190.84 632.00,196.25 C632.58,200.99 633.17,203.36 633.75,203.75 C635.00,204.58 636.25,204.17 637.50,205.00 C638.50,205.67 639.50,206.25 640.50,208.75 C641.33,210.83 642.17,214.38 643.00,220.00 C643.83,225.62 644.67,242.50 645.50,242.50 C646.33,242.50 647.17,228.75 648.00,228.75 C648.83,228.75 649.67,240.00 650.50,240.00 C651.58,240.00 652.67,208.75 653.75,208.75 C654.58,208.75 655.42,214.38 656.25,217.50 C657.08,220.62 657.92,223.16 658.75,227.50 C659.83,233.14 660.92,249.50 662.00,249.50 C662.83,249.50 663.67,237.50 664.50,237.50 C665.33,237.50 666.17,241.25 667.00,241.25 C667.83,241.25 668.67,237.00 669.50,237.00 C670.33,237.00 671.17,256.37 672.00,258.75 C672.58,260.42 673.17,261.25 673.75,261.25 C674.58,261.25 675.42,260.00 676.25,260.00 C677.08,260.00 677.92,262.50 678.75,262.50 C679.58,262.50 680.42,261.67 681.25,260.00 C681.83,258.83 682.42,254.57 683.00,252.50 C683.83,249.54 684.67,246.25 685.50,246.25 C686.33,246.25 687.17,253.72 688.00,255.00 C689.08,256.67 690.17,256.40 691.25,257.50 C691.83,258.09 692.42,259.50 693.00,259.50 C693.83,259.50 694.67,253.36 695.50,251.25 C696.58,248.50 697.67,246.25 698.75,246.25 C699.58,246.25 700.42,249.50 701.25,249.50 C702.08,249.50 702.92,241.58 703.75,237.50 C704.58,233.42 705.42,228.25 706.25,225.00 C707.08,221.75 707.92,218.00 708.75,218.00 C709.83,218.00 710.92,219.83 712.00,221.25 C713.17,222.78 714.33,227.00 715.50,227.00 C716.33,227.00 717.17,225.52 718.00,225.00 C719.08,224.33 720.17,223.75 721.25,223.75 C721.83,223.75 722.42,225.00 723.00,225.00 C723.67,225.00 724.33,221.25 725.00,221.25 C725.67,221.25 726.33,231.87 727.00,232.50 C728.42,233.83 729.83,233.17 731.25,234.50 C732.08,235.28 732.92,239.71 733.75,245.00 C734.33,248.70 734.92,257.00 735.50,258.75 C736.33,261.25 737.17,262.50 738.00,262.50 C738.83,262.50 739.67,257.00 740.50,257.00 C741.17,257.00 741.83,282.50 742.50,282.50 C743.33,282.50 744.17,279.31 745.00,278.75 C746.25,277.92 747.50,278.33 748.75,277.50 C749.58,276.94 750.42,264.85 751.25,260.00 C751.83,256.60 752.42,252.07 753.00,251.25 C753.83,250.08 754.67,250.67 755.50,249.50 C756.33,248.33 757.17,242.00 758.00,235.00 C758.83,228.00 759.67,212.50 760.50,207.50 C761.33,202.50 762.17,200.00 763.00,200.00 C763.83,200.00 764.67,201.25 765.50,201.25 C766.58,201.25 767.67,199.88 768.75,197.50 C769.58,195.67 770.42,190.00 771.25,190.00 C772.08,190.00 772.92,210.00 773.75,210.00 C774.58,210.00 775.42,203.75 776.25,203.75 C776.83,203.75 777.42,204.58 778.00,206.25 C778.67,208.15 779.33,213.75 780.00,222.50 C780.67,231.25 781.33,248.78 782.00,258.75 C782.83,271.22 783.67,286.25 784.50,286.25 C785.33,286.25 786.17,282.92 787.00,276.25 C787.58,271.58 788.17,255.00 788.75,255.00 C789.58,255.00 790.42,255.42 791.25,256.25 C792.08,257.08 792.92,265.47 793.75,270.00 C795.00,276.79 796.25,283.10 797.50,290.00 C798.50,295.52 799.50,307.00 800.50,307.00 C801.58,307.00 802.67,298.82 803.75,295.00 C805.00,290.59 806.25,282.50 807.50,282.50 C808.33,282.50 809.17,283.33 810.00,285.00 C810.83,286.67 811.67,296.25 812.50,296.25 C813.33,296.25 814.17,290.03 815.00,287.50 C816.25,283.71 817.50,281.42 818.75,278.75 C819.58,276.97 820.42,277.08 821.25,273.75 C822.08,270.42 822.92,256.33 823.75,255.00 C824.58,253.67 825.42,253.00 826.25,253.00 C827.08,253.00 827.92,256.33 828.75,260.00 C829.58,263.67 830.42,270.93 831.25,275.00 C832.50,281.10 833.75,287.00 835.00,287.00 C836.25,287.00 837.50,279.94 838.75,277.50 C840.17,274.73 841.58,272.00 843.00,272.00 C843.67,272.00 844.33,287.96 845.00,295.00 C846.00,305.57 847.00,322.50 848.00,322.50 C849.08,322.50 850.17,310.00 851.25,310.00 C852.08,310.00 852.92,317.50 853.75,317.50 C854.58,317.50 855.42,307.50 856.25,307.50 C857.08,307.50 857.92,308.75 858.75,308.75 C859.33,308.75 859.92,300.53 860.50,297.50 C861.58,291.86 862.67,288.00 863.75,288.00 C864.58,288.00 865.42,301.19 866.25,303.75 C867.33,307.08 868.42,305.42 869.50,308.75 C870.33,311.31 871.17,318.51 872.00,322.50 C872.58,325.29 873.17,330.00 873.75,330.00 C874.58,330.00 875.42,329.50 876.25,329.50 C877.33,329.50 878.42,331.15 879.50,332.50 C880.33,333.54 881.17,336.25 882.00,336.25 C883.00,336.25 884.00,336.25 885.00,336.25 C886.00,336.25 887.00,342.38 888.00,345.00 C889.08,347.84 890.17,351.42 891.25,352.50 C892.08,353.33 892.92,353.75 893.75,353.75 C894.58,353.75 895.42,352.92 896.25,351.25 C897.33,349.08 898.42,339.65 899.50,338.75 C900.50,337.92 901.50,338.33 902.50,337.50 C903.33,336.81 904.17,333.43 905.00,331.25 C906.00,328.64 907.00,323.22 908.00,323.00 C909.50,322.67 911.00,322.50 912.50,322.50 C913.75,322.50 915.00,322.67 916.25,323.00 C916.83,323.16 917.42,333.75 918.00,333.75 C918.67,333.75 919.33,326.46 920.00,322.50 C920.67,318.54 921.33,313.28 922.00,310.00 C923.00,305.08 924.00,301.25 925.00,301.25 C925.67,301.25 926.33,304.25 927.00,306.25 C928.00,309.25 929.00,317.50 930.00,317.50 C931.25,317.50 932.50,316.25 933.75,313.75 C934.83,311.58 935.92,306.41 937.00,302.50 C938.00,298.89 939.00,291.25 940.00,291.25 C941.00,291.25 942.00,293.75 943.00,293.75 C943.83,293.75 944.67,292.50 945.50,292.50 C946.58,292.50 947.67,302.00 948.75,302.00 C949.58,302.00 950.42,300.00 951.25,300.00 C952.08,300.00 952.92,312.47 953.75,313.75 C954.83,315.42 955.92,316.25 957.00,316.25 C957.83,316.25 958.67,311.25 959.50,311.25 C960.50,311.25 961.50,318.75 962.50,318.75 C963.33,318.75 964.17,316.25 965.00,311.25 C965.53,308.05 966.07,298.55 966.60,297.70 C968.10,295.30 969.60,294.10 971.10,294.10 C972.30,294.10 973.50,294.10 974.70,294.10 C975.30,294.10 975.90,299.50 976.50,299.50 C977.40,299.50 978.30,297.70 979.20,297.70 C980.40,297.70 981.60,299.50 982.80,299.50 C983.70,299.50 984.60,295.90 985.50,295.90 C986.40,295.90 987.30,297.20 988.20,297.20 C989.40,297.20 990.60,295.87 991.80,293.20 C992.40,291.87 993.00,289.30 993.60,287.80 C994.20,286.30 994.80,284.20 995.40,284.20 C996.30,284.20 997.20,286.90 998.10,286.90 C998.70,286.90 999.30,282.18 999.90,279.70 C1000.80,275.98 1001.70,271.15 1002.60,268.00 C1003.50,264.85 1004.40,263.20 1005.30,260.80 C1006.20,258.40 1007.10,258.40 1008.00,253.60 C1008.42,251.38 1008.83,246.31 1009.25,241.25" stroke="#ea8c00" clip-path="url(#co)"/>
<path d="M55.50,176.00 C55.83,182.93 56.17,189.87 56.50,196.00 C57.00,205.20 57.50,213.93 58.00,220.00 C58.67,228.10 59.33,229.63 60.00,234.00 C60.83,239.46 61.67,249.00 62.50,249.00 C63.67,249.00 64.83,234.00 66.00,234.00 C67.33,234.00 68.67,234.33 70.00,235.00 C71.33,235.67 72.67,240.00 74.00,240.00 C75.00,240.00 76.00,235.00 77.00,225.00 C77.58,219.17 78.17,196.00 78.75,196.00 C79.50,196.00 80.25,205.50 81.00,205.50 C82.00,205.50 83.00,177.00 84.00,177.00 C84.83,177.00 85.67,186.00 86.50,190.00 C87.33,194.00 88.17,201.00 89.00,201.00 C90.83,201.00 92.67,177.00 94.50,177.00 C95.00,177.00 95.50,195.50 96.00,195.50 C97.67,195.50 99.33,192.50 101.00,192.50 C102.00,192.50 103.00,193.67 104.00,196.00 C105.33,199.11 106.67,206.75 108.00,212.00 C109.33,217.25 110.67,227.50 112.00,227.50 C113.73,227.50 115.47,214.30 117.20,214.30 C118.13,214.30 119.07,219.29 120.00,224.00 C120.77,227.87 121.53,233.42 122.30,238.60 C123.30,245.36 124.30,260.50 125.30,260.50 C126.30,260.50 127.30,243.60 128.30,243.60 C129.00,243.60 129.70,254.36 130.40,258.80 C131.40,265.14 132.40,273.83 133.40,274.00 C137.27,274.67 141.13,275.00 145.00,275.00 C145.67,275.00 146.33,268.75 147.00,268.75 C147.58,268.75 148.17,274.50 148.75,274.50 C149.58,274.50 150.42,262.38 151.25,260.00 C151.83,258.33 152.42,257.50 153.00,257.50 C153.67,257.50 154.33,263.75 155.00,263.75 C155.83,263.75 156.67,256.25 157.50,255.75 C158.33,255.25 159.17,255.00 160.00,255.00 C160.83,255.00 161.67,263.89 162.50,265.00 C163.75,266.67 165.00,267.50 166.25,267.50 C167.50,267.50 168.75,265.83 170.00,262.50 C170.83,260.28 171.67,248.75 172.50,248.75 C173.33,248.75 174.17,265.00 175.00,265.00 C175.83,265.00 176.67,260.83 177.50,260.00 C178.33,259.17 179.17,258.75 180.00,258.75 C180.67,258.75 181.33,259.00 182.00,259.50 C182.58,259.94 183.17,272.39 183.75,280.00 C184.17,285.44 184.58,294.38 185.00,297.50 C185.67,302.50 186.33,300.89 187.00,305.00 C187.58,308.60 188.17,319.50 188.75,319.50 C189.58,319.50 190.42,317.50 191.25,317.50 C191.83,317.50 192.42,318.71 193.00,319.00 C193.67,319.33 194.33,319.50 195.00,319.50 C195.83,319.50 196.67,289.90 197.50,280.00 C198.17,272.08 198.83,262.50 199.50,262.50 C200.08,262.50 200.67,284.58 201.25,292.50 C201.83,300.42 202.42,310.00 203.00,310.00 C203.67,310.00 204.33,307.70 205.00,305.00 C205.83,301.62 206.67,290.00 207.50,290.00 C208.33,290.00 209.17,290.83 210.00,292.50 C210.83,294.17 211.67,305.00 212.50,307.50 C213.33,310.00 214.17,308.75 215.00,311.25 C215.67,313.25 216.33,321.14 217.00,325.00 C218.00,330.79 219.00,337.50 220.00,337.50 C220.83,337.50 221.67,329.17 222.50,326.25 C223.33,323.33 224.17,320.00 225.00,320.00 C225.83,320.00 226.67,326.00 227.50,326.00 C228.17,326.00 228.83,325.25 229.50,323.75 C230.08,322.44 230.67,313.67 231.25,312.50 C232.08,310.83 232.92,310.00 233.75,310.00 C234.58,310.00 235.42,312.50 236.25,312.50 C237.08,312.50 237.92,306.25 238.75,306.25 C239.58,306.25 240.42,310.00 241.25,310.00 C242.08,310.00 242.92,288.00 243.75,288.00 C244.33,288.00 244.92,300.00 245.50,300.00 C247.00,300.00 248.50,300.00 250.00,300.00 C251.00,300.00 252.00,295.94 253.00,292.50 C254.08,288.77 255.17,278.00 256.25,278.00 C257.50,278.00 258.75,278.25 260.00,278.75 C261.25,279.25 262.50,281.25 263.75,281.25 C264.33,281.25 264.92,281.00 265.50,281.00 C266.83,281.00 268.17,309.50 269.50,309.50 C271.33,309.50 273.17,309.50 275.00,309.50 C276.00,309.50 277.00,293.75 278.00,293.75 C278.67,293.75 279.33,310.00 280.00,310.00 C281.25,310.00 282.50,307.17 283.75,305.00 C284.58,303.56 285.42,300.00 286.25,300.00 C287.08,300.00 287.92,301.67 288.75,305.00 C289.17,306.67 289.58,319.58 290.00,322.50 C290.83,328.33 291.67,331.25 292.50,331.25 C293.17,331.25 293.83,326.25 294.50,326.25 C295.25,326.25 296.00,337.50 296.75,337.50 C297.25,337.50 297.75,331.60 298.25,327.50 C298.83,322.71 299.42,310.00 300.00,310.00 C300.42,310.00 300.83,318.75 301.25,318.75 C302.08,318.75 302.92,315.62 303.75,310.00 C304.58,304.38 305.42,285.67 306.25,285.00 C306.67,284.67 307.08,284.50 307.50,284.50 C307.92,284.50 308.33,292.50 308.75,292.50 C309.17,292.50 309.58,288.75 310.00,288.75 C310.42,288.75 310.83,288.75 311.25,288.75 C312.50,288.75 313.75,293.75 315.00,293.75 C316.67,293.75 318.33,287.08 320.00,285.00 C321.67,282.92 323.33,283.37 325.00,281.25 C326.25,279.66 327.50,279.17 328.75,275.00 C329.33,273.06 329.92,267.54 330.50,260.00 C331.00,253.53 331.50,241.63 332.00,235.00 C332.58,227.26 333.17,218.75 333.75,218.75 C335.00,218.75 336.25,221.25 337.50,221.25 C338.75,221.25 340.00,218.00 341.25,218.00 C342.33,218.00 343.42,218.25 344.50,218.75 C345.08,219.02 345.67,223.75 346.25,223.75 C347.08,223.75 347.92,218.25 348.75,218.25 C350.42,218.25 352.08,223.75 353.75,223.75 C355.42,223.75 357.08,208.75 358.75,208.75 C359.58,208.75 360.42,212.60 361.25,215.00 C362.67,219.08 364.08,230.00 365.50,230.00 C366.58,230.00 367.67,219.47 368.75,218.75 C370.00,217.92 371.25,218.33 372.50,217.50 C373.08,217.11 373.67,210.42 374.25,196.25 C374.50,190.18 374.75,164.25 375.00,163.75 C375.83,162.08 376.67,162.92 377.50,161.25 C378.50,159.25 379.50,148.75 380.50,148.75 C381.58,148.75 382.67,156.25 383.75,156.25 C385.00,156.25 386.25,151.25 387.50,151.25 C388.33,151.25 389.17,157.69 390.00,160.00 C391.25,163.46 392.50,163.75 393.75,166.25 C395.00,168.75 396.25,175.00 397.50,175.00 C398.17,175.00 398.83,173.31 399.50,171.25 C400.25,168.94 401.00,161.25 401.75,161.25 C402.42,161.25 403.08,170.00 403.75,170.00 C404.83,170.00 405.92,169.17 407.00,167.50 C408.00,165.96 409.00,156.75 410.00,152.50 C410.67,149.67 411.33,145.00 412.00,145.00 C412.75,145.00 413.50,171.25 414.25,171.25 C415.33,171.25 416.42,171.25 417.50,171.25 C418.50,171.25 419.50,167.50 420.50,167.50 C422.00,167.50 423.50,168.75 425.00,171.25 C425.83,172.64 426.67,176.81 427.50,180.00 C428.75,184.79 430.00,187.83 431.25,196.25 C431.83,200.18 432.42,210.00 433.00,210.00 C434.08,210.00 435.17,208.43 436.25,207.50 C437.92,206.07 439.58,202.50 441.25,202.50 C442.50,202.50 443.75,204.17 445.00,207.50 C445.83,209.72 446.67,216.39 447.50,225.00 C447.92,229.31 448.33,240.00 448.75,240.00 C449.58,240.00 450.42,221.00 451.25,218.00 C452.50,213.50 453.75,215.75 455.00,211.25 C455.83,208.25 456.67,201.81 457.50,197.50 C458.75,191.04 460.00,180.00 461.25,180.00 C462.33,180.00 463.42,189.66 464.50,196.25 C465.50,202.33 466.50,212.38 467.50,217.50 C468.75,223.90 470.00,227.50 471.25,227.50 C472.50,227.50 473.75,223.04 475.00,221.25 C476.00,219.81 477.00,217.50 478.00,217.50 C478.83,217.50 479.67,232.07 480.50,232.50 C482.42,233.50 484.33,233.00 486.25,234.00 C487.50,234.65 488.75,240.82 490.00,247.50 C490.83,251.95 491.67,260.06 492.50,263.75 C492.92,265.60 493.33,268.00 493.75,268.00 C494.17,268.00 494.58,259.00 495.00,255.00 C495.83,247.00 496.67,238.33 497.50,235.00 C498.75,230.00 500.00,227.50 501.25,227.50 C502.50,227.50 503.75,230.50 505.00,230.50 C506.25,230.50 507.50,229.92 508.75,228.75 C510.00,227.58 511.25,221.25 512.50,221.25 C513.33,221.25 514.17,228.56 515.00,232.00 C515.67,234.76 516.33,240.00 517.00,240.00 C518.00,240.00 519.00,218.10 520.00,214.00 C520.42,212.29 520.83,211.25 521.25,211.25 C522.08,211.25 522.92,222.50 523.75,222.50 C524.58,222.50 525.42,219.00 526.25,219.00 C527.08,219.00 527.92,226.25 528.75,226.25 C530.00,226.25 531.25,225.83 532.50,225.00 C533.75,224.17 535.00,213.21 536.25,207.50 C537.08,203.69 537.92,202.50 538.75,196.25 C539.58,190.00 540.42,173.33 541.25,170.00 C542.08,166.67 542.92,165.00 543.75,165.00 C545.00,165.00 546.25,168.75 547.50,168.75 C548.50,168.75 549.50,165.00 550.50,165.00 C551.58,165.00 552.67,169.50 553.75,169.50 C555.00,169.50 556.25,163.75 557.50,162.50 C558.33,161.67 559.17,161.25 560.00,161.25 C560.83,161.25 561.67,166.39 562.50,167.50 C563.75,169.17 565.00,169.08 566.25,170.00 C567.50,170.92 568.75,173.00 570.00,173.00 C570.83,173.00 571.67,165.00 572.50,165.00 C573.33,165.00 574.17,172.08 575.00,173.75 C576.25,176.25 577.50,175.88 578.75,177.50 C579.58,178.58 580.42,181.25 581.25,181.25 C582.08,181.25 582.92,179.07 583.75,177.50 C584.33,176.40 584.92,173.75 585.50,173.75 C586.00,173.75 586.50,182.92 587.00,183.75 C588.00,185.42 589.00,185.60 590.00,186.25 C590.83,186.79 591.67,186.67 592.50,187.50 C593.17,188.17 593.83,192.39 594.50,196.25 C595.50,202.04 596.50,214.06 597.50,220.00 C598.75,227.42 600.00,233.00 601.25,233.00 C602.08,233.00 602.92,227.96 603.75,225.00 C604.83,221.16 605.92,212.00 607.00,212.00 C608.00,212.00 609.00,220.00 610.00,220.00 C610.83,220.00 611.67,212.17 612.50,208.75 C613.33,205.33 614.17,199.50 615.00,199.50 C615.83,199.50 616.67,201.25 617.50,201.25 C618.33,201.25 619.17,197.88 620.00,196.00 C620.83,194.12 621.67,190.00 622.50,190.00 C623.33,190.00 624.17,193.75 625.00,193.75 C626.00,193.75 627.00,187.38 628.00,182.50 C628.67,179.25 629.33,171.25 630.00,171.25 C630.67,171.25 631.33,190.84 632.00,196.25 C632.58,200.99 633.17,203.36 633.75,203.75 C635.00,204.58 636.25,204.17 637.50,205.00 C638.50,205.67 639.50,206.25 640.50,208.75 C641.33,210.83 642.17,214.38 643.00,220.00 C643.83,225.62 644.67,242.50 645.50,242.50 C646.33,242.50 647.17,228.75 648.00,228.75 C648.83,228.75 649.67,240.00 650.50,240.00 C651.58,240.00 652.67,208.75 653.75,208.75 C654.58,208.75 655.42,214.38 656.25,217.50 C657.08,220.62 657.92,223.16 658.75,227.50 C659.83,233.14 660.92,249.50 662.00,249.50 C662.83,249.50 663.67,237.50 664.50,237.50 C665.33,237.50 666.17,241.25 667.00,241.25 C667.83,241.25 668.67,237.00 669.50,237.00 C670.33,237.00 671.17,256.37 672.00,258.75 C672.58,260.42 673.17,261.25 673.75,261.25 C674.58,261.25 675.42,260.00 676.25,260.00 C677.08,260.00 677.92,262.50 678.75,262.50 C679.58,262.50 680.42,261.67 681.25,260.00 C681.83,258.83 682.42,254.57 683.00,252.50 C683.83,249.54 684.67,246.25 685.50,246.25 C686.33,246.25 687.17,253.72 688.00,255.00 C689.08,256.67 690.17,256.40 691.25,257.50 C691.83,258.09 692.42,259.50 693.00,259.50 C693.83,259.50 694.67,253.36 695.50,251.25 C696.58,248.50 697.67,246.25 698.75,246.25 C699.58,246.25 700.42,249.50 701.25,249.50 C702.08,249.50 702.92,241.58 703.75,237.50 C704.58,233.42 705.42,228.25 706.25,225.00 C707.08,221.75 707.92,218.00 708.75,218.00 C709.83,218.00 710.92,219.83 712.00,221.25 C713.17,222.78 714.33,227.00 715.50,227.00 C716.33,227.00 717.17,225.52 718.00,225.00 C719.08,224.33 720.17,223.75 721.25,223.75 C721.83,223.75 722.42,225.00 723.00,225.00 C723.67,225.00 724.33,221.25 725.00,221.25 C725.67,221.25 726.33,231.87 727.00,232.50 C728.42,233.83 729.83,233.17 731.25,234.50 C732.08,235.28 732.92,239.71 733.75,245.00 C734.33,248.70 734.92,257.00 735.50,258.75 C736.33,261.25 737.17,262.50 738.00,262.50 C738.83,262.50 739.67,257.00 740.50,257.00 C741.17,257.00 741.83,282.50 742.50,282.50 C743.33,282.50 744.17,279.31 745.00,278.75 C746.25,277.92 747.50,278.33 748.75,277.50 C749.58,276.94 750.42,264.85 751.25,260.00 C751.83,256.60 752.42,252.07 753.00,251.25 C753.83,250.08 754.67,250.67 755.50,249.50 C756.33,248.33 757.17,242.00 758.00,235.00 C758.83,228.00 759.67,212.50 760.50,207.50 C761.33,202.50 762.17,200.00 763.00,200.00 C763.83,200.00 764.67,201.25 765.50,201.25 C766.58,201.25 767.67,199.88 768.75,197.50 C769.58,195.67 770.42,190.00 771.25,190.00 C772.08,190.00 772.92,210.00 773.75,210.00 C774.58,210.00 775.42,203.75 776.25,203.75 C776.83,203.75 777.42,204.58 778.00,206.25 C778.67,208.15 779.33,213.75 780.00,222.50 C780.67,231.25 781.33,248.78 782.00,258.75 C782.83,271.22 783.67,286.25 784.50,286.25 C785.33,286.25 786.17,282.92 787.00,276.25 C787.58,271.58 788.17,255.00 788.75,255.00 C789.58,255.00 790.42,255.42 791.25,256.25 C792.08,257.08 792.92,265.47 793.75,270.00 C795.00,276.79 796.25,283.10 797.50,290.00 C798.50,295.52 799.50,307.00 800.50,307.00 C801.58,307.00 802.67,298.82 803.75,295.00 C805.00,290.59 806.25,282.50 807.50,282.50 C808.33,282.50 809.17,283.33 810.00,285.00 C810.83,286.67 811.67,296.25 812.50,296.25 C813.33,296.25 814.17,290.03 815.00,287.50 C816.25,283.71 817.50,281.42 818.75,278.75 C819.58,276.97 820.42,277.08 821.25,273.75 C822.08,270.42 822.92,256.33 823.75,255.00 C824.58,253.67 825.42,253.00 826.25,253.00 C827.08,253.00 827.92,256.33 828.75,260.00 C829.58,263.67 830.42,270.93 831.25,275.00 C832.50,281.10 833.75,287.00 835.00,287.00 C836.25,287.00 837.50,279.94 838.75,277.50 C840.17,274.73 841.58,272.00 843.00,272.00 C843.67,272.00 844.33,287.96 845.00,295.00 C846.00,305.57 847.00,322.50 848.00,322.50 C849.08,322.50 850.17,310.00 851.25,310.00 C852.08,310.00 852.92,317.50 853.75,317.50 C854.58,317.50 855.42,307.50 856.25,307.50 C857.08,307.50 857.92,308.75 858.75,308.75 C859.33,308.75 859.92,300.53 860.50,297.50 C861.58,291.86 862.67,288.00 863.75,288.00 C864.58,288.00 865.42,301.19 866.25,303.75 C867.33,307.08 868.42,305.42 869.50,308.75 C870.33,311.31 871.17,318.51 872.00,322.50 C872.58,325.29 873.17,330.00 873.75,330.00 C874.58,330.00 875.42,329.50 876.25,329.50 C877.33,329.50 878.42,331.15 879.50,332.50 C880.33,333.54 881.17,336.25 882.00,336.25 C883.00,336.25 884.00,336.25 885.00,336.25 C886.00,336.25 887.00,342.38 888.00,345.00 C889.08,347.84 890.17,351.42 891.25,352.50 C892.08,353.33 892.92,353.75 893.75,353.75 C894.58,353.75 895.42,352.92 896.25,351.25 C897.33,349.08 898.42,339.65 899.50,338.75 C900.50,337.92 901.50,338.33 902.50,337.50 C903.33,336.81 904.17,333.43 905.00,331.25 C906.00,328.64 907.00,323.22 908.00,323.00 C909.50,322.67 911.00,322.50 912.50,322.50 C913.75,322.50 915.00,322.67 916.25,323.00 C916.83,323.16 917.42,333.75 918.00,333.75 C918.67,333.75 919.33,326.46 920.00,322.50 C920.67,318.54 921.33,313.28 922.00,310.00 C923.00,305.08 924.00,301.25 925.00,301.25 C925.67,301.25 926.33,304.25 927.00,306.25 C928.00,309.25 929.00,317.50 930.00,317.50 C931.25,317.50 932.50,316.25 933.75,313.75 C934.83,311.58 935.92,306.41 937.00,302.50 C938.00,298.89 939.00,291.25 940.00,291.25 C941.00,291.25 942.00,293.75 943.00,293.75 C943.83,293.75 944.67,292.50 945.50,292.50 C946.58,292.50 947.67,302.00 948.75,302.00 C949.58,302.00 950.42,300.00 951.25,300.00 C952.08,300.00 952.92,312.47 953.75,313.75 C954.83,315.42 955.92,316.25 957.00,316.25 C957.83,316.25 958.67,311.25 959.50,311.25 C960.50,311.25 961.50,318.75 962.50,318.75 C963.33,318.75 964.17,316.25 965.00,311.25 C965.53,308.05 966.07,298.55 966.60,297.70 C968.10,295.30 969.60,294.10 971.10,294.10 C972.30,294.10 973.50,294.10 974.70,294.10 C975.30,294.10 975.90,299.50 976.50,299.50 C977.40,299.50 978.30,297.70 979.20,297.70 C980.40,297.70 981.60,299.50 982.80,299.50 C983.70,299.50 984.60,295.90 985.50,295.90 C986.40,295.90 987.30,297.20 988.20,297.20 C989.40,297.20 990.60,295.87 991.80,293.20 C992.40,291.87 993.00,289.30 993.60,287.80 C994.20,286.30 994.80,284.20 995.40,284.20 C996.30,284.20 997.20,286.90 998.10,286.90 C998.70,286.90 999.30,282.18 999.90,279.70 C1000.80,275.98 1001.70,271.15 1002.60,268.00 C1003.50,264.85 1004.40,263.20 1005.30,260.80 C1006.20,258.40 1007.10,258.40 1008.00,253.60 C1008.42,251.38 1008.83,246.31 1009.25,241.25" stroke="#ea3943" clip-path="url(#cr)"/>
</g>
<!-- zone labels -->
<text class="zl" x="1000.7" y="106.8">Extreme Greed</text>
<text class="zl" x="1000.7" y="170.4">Greed</text>
<text class="zl" x="1000.7" y="234.0">Neutral</text>
<text class="zl" x="1000.7" y="297.6">Fear</text>
<text class="zl" x="1000.7" y="361.2">Extreme Fear</text>
<!-- left axis -->
<g class="ax" text-anchor="end">
<text x="51.2" y="79">132K</text>
<text x="51.2" y="142">120K</text>
<text x="51.2" y="206">108K</text>
<text x="51.2" y="269">96K</text>
<text x="51.2" y="333">84K</text>
</g>
<text x="51.2" y="396" text-anchor="end" style="font-size:11px;font-weight:700;fill:#58667e">USD</text>
<!-- right axis -->
<g class="ax">
<text x="1015.3" y="79">100</text>
<text x="1015.3" y="142">80</text>
<text x="1015.3" y="206">60</text>
<text x="1015.3" y="269">40</text>
<text x="1015.3" y="333">20</text>
</g>
<text x="1015.3" y="396.2" style="font-size:11px;font-weight:700;fill:#58667e">F&amp;G</text>
<!-- badge -->
<rect x="1011" y="216.5" width="23" height="22.3" rx="3.6" fill="#f3d42f"/>
<text x="1022.5" y="231.6" style="font-size:13px;font-weight:700;fill:#fff;text-anchor:middle">49</text>
<!-- x axis -->
<g class="xl">
<text x="145.8" y="405.6">Feb 2025</text>
<text x="219.3" y="405.6">Mar 2025</text>
<text x="300" y="405.6">Apr 2025</text>
<text x="380.4" y="405.6">May 2025</text>
<text x="460.2" y="405.6">Jun 2025</text>
<text x="537.1" y="405.6">Jul 2025</text>
<text x="621.4" y="405.6">Aug 2025</text>
<text x="702.7" y="405.6">Sep 2025</text>
<text x="780.6" y="405.6">Oct 2025</text>
<text x="863.3" y="405.6">Nov 2025</text>
<text x="942" y="405.6">Dec 2025</text>
</g>
<g style="font-size:16px;font-weight:700;fill:#000;opacity:0.032">
<text x="157.6" y="52.7" transform="rotate(-29 157.6 52.7)">peter.lee-2026/01/06 16:58</text>
<text x="618.6" y="42.7" transform="rotate(-29 618.6 42.7)">peter.lee-2026/01/06 16:58</text>
<text x="268.6" y="245.7" transform="rotate(-29 268.6 245.7)">peter.lee-2026/01/06 16:58</text>
<text x="729.6" y="235.7" transform="rotate(-29 729.6 235.7)">peter.lee-2026/01/06 16:58</text>
<text x="379.6" y="438.7" transform="rotate(-29 379.6 438.7)">peter.lee-2026/01/06 16:58</text>
<text x="840.6" y="428.7" transform="rotate(-29 840.6 428.7)">peter.lee-2026/01/06 16:58</text>
<text x="-81.4" y="448.7" transform="rotate(-29 -81.4 448.7)">peter.lee-2026/01/06 16:58</text>
<text x="-192.4" y="255.7" transform="rotate(-29 -192.4 255.7)">peter.lee-2026/01/06 16:58</text>
</g>
</svg>
</body></html>
